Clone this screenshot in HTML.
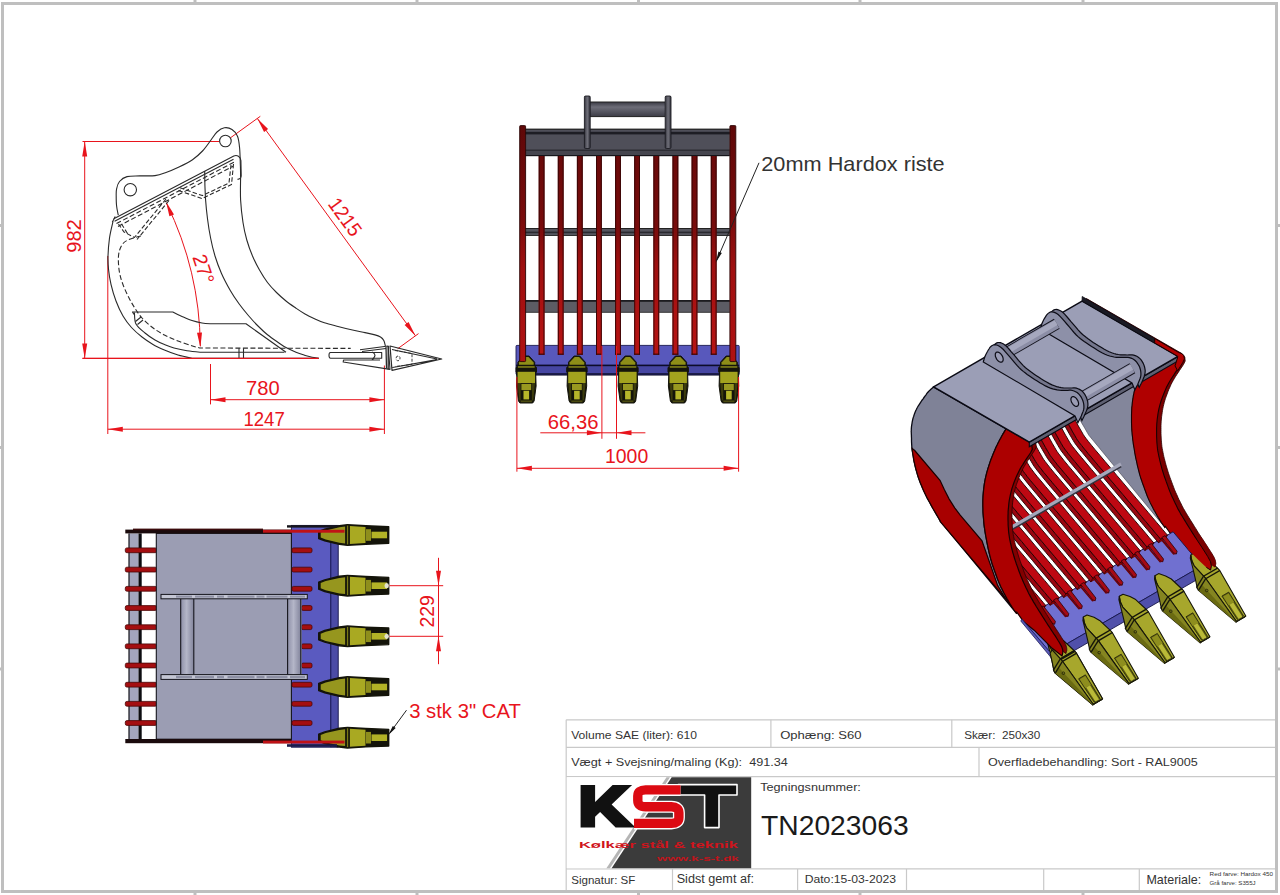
<!DOCTYPE html>
<html><head><meta charset="utf-8"><title>Drawing</title>
<style>
html,body{margin:0;padding:0;background:#fff;overflow:hidden}
svg{display:block;font-family:"Liberation Sans",sans-serif}
</style></head><body>
<svg width="1280" height="895" viewBox="0 0 1280 895">
<rect width="1280" height="895" fill="#fff"/>
<g id="frame">
<rect x="2.5" y="3.5" width="1274" height="888" fill="none" stroke="#bfbfbf" stroke-width="3"/>
<rect x="193.5" y="0" width="3" height="2" fill="#bfbfbf"/>
<rect x="193.5" y="893" width="3" height="2" fill="#bfbfbf"/>
<rect x="415.5" y="0" width="3" height="2" fill="#bfbfbf"/>
<rect x="415.5" y="893" width="3" height="2" fill="#bfbfbf"/>
<rect x="637" y="0" width="3" height="2" fill="#bfbfbf"/>
<rect x="637" y="893" width="3" height="2" fill="#bfbfbf"/>
<rect x="858.5" y="0" width="3" height="2" fill="#bfbfbf"/>
<rect x="858.5" y="893" width="3" height="2" fill="#bfbfbf"/>
<rect x="1081.5" y="0" width="3" height="2" fill="#bfbfbf"/>
<rect x="1081.5" y="893" width="3" height="2" fill="#bfbfbf"/>
<rect x="0" y="224" width="1" height="3" fill="#bfbfbf"/>
<rect x="1278" y="224" width="2" height="3" fill="#bfbfbf"/>
<rect x="0" y="446" width="1" height="3" fill="#bfbfbf"/>
<rect x="1278" y="446" width="2" height="3" fill="#bfbfbf"/>
<rect x="0" y="667.5" width="1" height="3" fill="#bfbfbf"/>
<rect x="1278" y="667.5" width="2" height="3" fill="#bfbfbf"/>
<line x1="566.2" y1="719.8" x2="1275" y2="719.8" stroke="#c9c9c9" stroke-width="1.2"/>
<line x1="566.2" y1="747.4" x2="1275" y2="747.4" stroke="#c9c9c9" stroke-width="1.2"/>
<line x1="566.2" y1="776.6" x2="1275" y2="776.6" stroke="#c9c9c9" stroke-width="1.2"/>
<line x1="566.2" y1="868.9" x2="1275" y2="868.9" stroke="#c9c9c9" stroke-width="1.2"/>
<line x1="566.2" y1="719.8" x2="566.2" y2="890" stroke="#c9c9c9" stroke-width="1.2"/>
<line x1="770.9" y1="719.8" x2="770.9" y2="747.4" stroke="#c9c9c9" stroke-width="1.2"/>
<line x1="951.8" y1="719.8" x2="951.8" y2="747.4" stroke="#c9c9c9" stroke-width="1.2"/>
<line x1="979" y1="747.4" x2="979" y2="776.6" stroke="#c9c9c9" stroke-width="1.2"/>
<line x1="672.5" y1="868.9" x2="672.5" y2="890" stroke="#c9c9c9" stroke-width="1.2"/>
<line x1="797.6" y1="868.9" x2="797.6" y2="890" stroke="#c9c9c9" stroke-width="1.2"/>
<line x1="906.5" y1="868.9" x2="906.5" y2="890" stroke="#c9c9c9" stroke-width="1.2"/>
<line x1="1043.7" y1="868.9" x2="1043.7" y2="890" stroke="#c9c9c9" stroke-width="1.2"/>
<line x1="1139.3" y1="868.9" x2="1139.3" y2="890" stroke="#c9c9c9" stroke-width="1.2"/>
<text x="571.2" y="739.1" font-size="11.5" fill="#333" textLength="125.8" lengthAdjust="spacingAndGlyphs">Volume SAE (liter): 610</text>
<text x="780.2" y="739.1" font-size="11.5" fill="#333" textLength="81.3" lengthAdjust="spacingAndGlyphs">Oph&#230;ng: S60</text>
<text x="964.2" y="739.1" font-size="11.5" fill="#333" textLength="76.2" lengthAdjust="spacingAndGlyphs">Sk&#230;r:&#160; 250x30</text>
<text x="571.2" y="766.2" font-size="11.5" fill="#333" textLength="216.6" lengthAdjust="spacingAndGlyphs">V&#230;gt + Svejsning/maling (Kg):&#160; 491.34</text>
<text x="988" y="766.2" font-size="11.5" fill="#333" textLength="209.8" lengthAdjust="spacingAndGlyphs">Overfladebehandling: Sort - RAL9005</text>
<text x="760.2" y="791" font-size="11.5" fill="#333" textLength="100.7" lengthAdjust="spacingAndGlyphs">Tegningsnummer:</text>
<text x="761" y="834.6" font-size="28" fill="#1a1a1a" textLength="147.7" lengthAdjust="spacingAndGlyphs">TN2023063</text>
<text x="571.2" y="884.2" font-size="11.5" fill="#333" textLength="64.2" lengthAdjust="spacingAndGlyphs">Signatur: SF</text>
<text x="676.7" y="883" font-size="12" fill="#333" textLength="77.3" lengthAdjust="spacingAndGlyphs">Sidst gemt af:</text>
<text x="804.7" y="883" font-size="11.5" fill="#333" textLength="91.3" lengthAdjust="spacingAndGlyphs">Dato:15-03-2023</text>
<text x="1146.4" y="883.8" font-size="13.5" fill="#333" textLength="54.8" lengthAdjust="spacingAndGlyphs">Materiale:</text>
<text x="1209.6" y="876.3" font-size="4.6" fill="#333" textLength="63.4" lengthAdjust="spacingAndGlyphs">Red farve: Hardox 450</text>
<text x="1209.6" y="884.7" font-size="4.6" fill="#333" textLength="46" lengthAdjust="spacingAndGlyphs">Gr&#229; farve: S355J</text>
<rect x="566.8" y="777.2" width="184.4" height="91.1" fill="#fff"/>
<polygon points="671.7,777.2 751.2,777.2 751.2,868.3 611.6,868.3" fill="#3b3b3b"/>
<polygon points="666.5,777.2 670,777.2 609.9,868.3 606.4,868.3" fill="#b5b5b5"/>
<path d="M580.6,785.1h14.5v17l17.5,-17h19.5l-20.5,19.5l24,23h-20l-15.5,-15.5l-5,4.6v10.9h-14.5z" fill="#111"/>
<path d="M678.2,784.6h58.8v10.4h-18v32.6h-14.4v-32.6h-26.4z" fill="#111" stroke="#fff" stroke-width="1.6" stroke-linejoin="round"/>
<path d="M680.5,789.9H645.5Q637.8,789.9 637.8,796V800.5Q637.8,806.8 645.5,806.8H671.5Q678.9,806.8 678.9,812.8V817.5Q678.9,823.4 671.5,823.4H634" fill="none" stroke="#fff" stroke-width="12" stroke-linejoin="round"/>
<path d="M680.5,789.9H645.5Q637.8,789.9 637.8,796V800.5Q637.8,806.8 645.5,806.8H671.5Q678.9,806.8 678.9,812.8V817.5Q678.9,823.4 671.5,823.4H634" fill="none" stroke="#dc0a12" stroke-width="9.4" stroke-linejoin="round"/>
<text x="578.9" y="848.2" font-size="9.5" font-weight="bold" fill="#d0141c" textLength="159" lengthAdjust="spacingAndGlyphs">K&#248;lk&#230;r st&#229;l &amp; teknik</text>
<text x="657" y="861.3" font-size="6.5" font-weight="bold" fill="#c0141c" textLength="81.8" lengthAdjust="spacingAndGlyphs">www.k-s-t.dk</text>
</g>
<g id="side">
<line x1="82.5" y1="141.5" x2="219.5" y2="141.5" stroke="#e8141c" stroke-width="1"/>
<line x1="82.5" y1="358.4" x2="192" y2="358.4" stroke="#e8141c" stroke-width="1"/>
<line x1="84.7" y1="141.5" x2="84.7" y2="358.4" stroke="#e8141c" stroke-width="1"/>
<polygon points="84.7,141.5 87.2,156.5 82.2,156.5" fill="#e8141c"/>
<polygon points="84.7,358.4 82.2,343.4 87.2,343.4" fill="#e8141c"/>
<text transform="translate(81.2,236) rotate(-90)" text-anchor="middle" font-size="20" fill="#e8141c" textLength="33.6" lengthAdjust="spacingAndGlyphs">982</text>
<line x1="107.8" y1="256" x2="107.8" y2="434" stroke="#e8141c" stroke-width="1"/>
<line x1="384.4" y1="365.5" x2="384.4" y2="434" stroke="#e8141c" stroke-width="1"/>
<line x1="107.8" y1="429.2" x2="384.4" y2="429.2" stroke="#e8141c" stroke-width="1"/>
<polygon points="107.8,429.2 122.8,426.7 122.8,431.7" fill="#e8141c"/>
<polygon points="384.4,429.2 369.4,431.7 369.4,426.7" fill="#e8141c"/>
<text x="243.4" y="425.5" font-size="20" fill="#e8141c" textLength="41.4" lengthAdjust="spacingAndGlyphs">1247</text>
<line x1="210.5" y1="364" x2="210.5" y2="404.4" stroke="#e8141c" stroke-width="1"/>
<line x1="210.5" y1="399.7" x2="384.4" y2="399.7" stroke="#e8141c" stroke-width="1"/>
<polygon points="210.5,399.7 225.5,397.2 225.5,402.2" fill="#e8141c"/>
<polygon points="384.4,399.7 369.4,402.2 369.4,397.2" fill="#e8141c"/>
<text x="246.1" y="395" font-size="20" fill="#e8141c" textLength="33.6" lengthAdjust="spacingAndGlyphs">780</text>
<line x1="229.5" y1="138.5" x2="260.3" y2="116.3" stroke="#e8141c" stroke-width="1"/>
<line x1="397.6" y1="348.8" x2="418.5" y2="333.6" stroke="#e8141c" stroke-width="1"/>
<line x1="257.3" y1="118.4" x2="415.4" y2="335.7" stroke="#e8141c" stroke-width="1"/>
<polygon points="257.3,118.4 268.1,129.1 264.1,132" fill="#e8141c"/>
<polygon points="415.4,335.7 404.6,325 408.6,322.1" fill="#e8141c"/>
<text transform="translate(339.5,221) rotate(54)" text-anchor="middle" font-size="20" fill="#e8141c" textLength="42" lengthAdjust="spacingAndGlyphs">1215</text>
<path d="M166.6,203.5 A 330,330 0 0 1 200.3,346" fill="none" stroke="#e8141c" stroke-width="1"/>
<polygon points="166,201.5 174,214.4 169.4,216.3" fill="#e8141c"/>
<polygon points="200.4,347.6 197,332.8 202,332.5" fill="#e8141c"/>
<text transform="translate(197,271.2) rotate(72)" text-anchor="middle" font-size="20" fill="#e8141c" textLength="30" lengthAdjust="spacingAndGlyphs">27&#176;</text>
<path d="M113,221.5C112.4,224.2 110.3,232.2 109.5,238C108.7,243.8 108.2,250.7 108,256C107.8,261.3 108.1,265.3 108.6,270C109.1,274.7 109.8,279.2 111,284.4C112.2,289.6 114,295.7 116,301C118,306.3 120.4,311.6 123,316C125.6,320.4 128.3,324 131.5,327.5C134.7,331 138.4,334.2 142,337C145.6,339.8 149.3,342.3 153,344.5C156.7,346.7 160.2,348.2 164.4,350C168.6,351.8 173.3,353.6 178,355C182.7,356.4 190.1,357.8 192.5,358.3L318.8,358.3" fill="none" stroke="#2a2a2a" stroke-width="1.1" stroke-linejoin="round"/>
<path d="M240.6,177.5C240.6,181.2 240.2,192.5 240.6,200C241,207.5 242,215.8 243,222.5C244,229.2 245.2,234.4 246.8,240C248.4,245.6 250.4,251 252.5,256C254.6,261 257,265.6 259.5,270C262,274.4 264.7,278.8 267.5,282.5C270.3,286.2 273.4,289.4 276.5,292.5C279.6,295.6 282.8,298.4 286,301C289.2,303.6 292.8,306 296,308.2C299.2,310.4 301.8,312.2 305,314C308.2,315.8 311.8,317.5 315,319C318.2,320.5 320.6,321.6 324.4,322.8C328.2,324.1 333.3,325.3 338,326.5C342.7,327.7 348,329 352.5,330C357,331 361.2,331.8 365,332.6C368.8,333.4 372.4,334.2 375,334.9C377.6,335.6 379,336.1 380.5,337C382,337.9 383,339 383.8,340.5C384.6,342 385.1,345.1 385.4,346" fill="none" stroke="#2a2a2a" stroke-width="1.1" stroke-linejoin="round"/>
<path d="M204.7,171C204.7,173.3 204.8,180.2 204.9,185C205.1,189.8 205.2,194.4 205.6,200C206,205.6 206.7,212.5 207.5,218.8C208.3,225.1 209.3,231.8 210.6,238C211.8,244.2 213.2,250.1 215,256C216.8,261.9 219,267.8 221.5,273.5C224,279.2 227.1,284.9 230,290C232.9,295.1 235.9,299.5 239,303.8C242.1,308.1 245.6,312.3 248.8,316C252,319.7 254.9,322.9 258,326C261.1,329.1 264.2,332.1 267.5,334.8C270.8,337.5 274.4,339.9 277.5,342C280.6,344.1 282.9,345.9 286,347.6C289.1,349.3 292.8,350.9 296,352.2C299.2,353.5 302.3,354.5 305,355.4C307.7,356.2 309.7,356.8 312,357.3C314.3,357.8 317.7,358.1 318.8,358.3" fill="none" stroke="#2a2a2a" stroke-width="1.1" stroke-linejoin="round"/>
<path d="M134.4,312.5C134.7,314.4 134.2,320.6 136,324C137.8,327.4 141.8,330.3 145,333C148.2,335.7 151.8,338.1 155,340C158.2,341.9 161.3,343.3 164.5,344.6C167.7,345.9 170.2,347 174,348C177.8,349 182.7,350.1 187,350.8C191.3,351.5 197.8,352.1 200,352.3L284.5,352.3" fill="none" stroke="#2a2a2a" stroke-width="1.1" stroke-linejoin="round"/>
<path d="M134,314.5L132.5,312L172.8,312C174.3,312.8 178.8,315.1 182,316.5C185.2,317.9 188.7,319.5 192,320.6C195.3,321.7 198.8,322.5 202,323C205.2,323.5 209.5,323.7 211,323.8L246,323.8L286,352.3" fill="none" stroke="#2a2a2a" stroke-width="1.1" stroke-linejoin="round"/>
<path d="M135.5,321.5L141,317M137.5,324.5L143,320" fill="none" stroke="#2a2a2a" stroke-width="1.1" stroke-linejoin="round"/>
<path d="M239,348.2V358.3M243.5,348.2V358.3" fill="none" stroke="#2a2a2a" stroke-width="1.1" stroke-linejoin="round"/>
<path d="M141,236C139.9,236.3 136.7,237.1 134.4,237.8C132.2,238.5 129.4,239.2 127.5,240.2C125.6,241.1 124.2,242 123,243.5C121.8,245 120.8,246.9 120,249C119.2,251.1 118.7,253.3 118.5,256C118.3,258.7 118.3,261.8 118.6,265C118.8,268.2 119.2,271.5 120,275C120.8,278.5 122,282.2 123.5,286C125,289.8 126.9,293.8 128.8,297.5C130.7,301.2 132.6,304.6 134.8,308C137,311.4 139.1,314.8 142,318C144.9,321.2 148.8,324.7 152.5,327.5C156.2,330.3 160.2,332.8 164.4,335C168.7,337.2 173.3,339.2 178,341C182.7,342.8 188.8,344.8 192.5,346C196.2,347.2 198.8,347.7 200,348L350.7,348.4" fill="none" stroke="#2a2a2a" stroke-width="1.1" stroke-linejoin="round" stroke-dasharray="5,2.5"/>
<path d="M118.3,215.2C118,213.7 116.9,209.2 116.6,206C116.2,202.8 116.2,198.9 116.2,196C116.2,193.1 116,191.2 116.6,188.8C117.1,186.4 117.8,183.5 119.5,181.5C121.2,179.5 123.6,177.5 127,176.6C130.4,175.7 135.3,176.1 140,175.9C144.7,175.7 150.7,176.2 155,175.6C159.3,175 162,173.9 166,172.5C170,171.1 174.6,169.1 179,167C183.4,164.9 188.6,162.4 192.5,159.7C196.4,157 199.4,154.3 202.5,151C205.6,147.7 208.6,143.2 211,140C213.4,136.8 214.8,134 217,132C219.2,130 221.9,128.2 224.4,127.8C226.9,127.4 229.8,128.1 232,129.5C234.2,130.9 236.2,133.1 237.5,136.2C238.8,139.3 239.1,143 239.6,148C240.1,153 240.2,161.4 240.4,166.3C240.6,171.2 240.6,175.6 240.6,177.5" fill="none" stroke="#2a2a2a" stroke-width="1.1" stroke-linejoin="round"/>
<circle cx="225.4" cy="141" r="5.8" fill="#fff" stroke="#2a2a2a" stroke-width="1.1"/>
<circle cx="130.3" cy="189.7" r="6.2" fill="#fff" stroke="#2a2a2a" stroke-width="1.1"/>
<path d="M113.8,218.8L233.8,156 C237,154.6 240.5,156.5 240.9,160.6 L241.2,176 C241,178 239,179.2 237.5,179.4" fill="none" stroke="#2a2a2a" stroke-width="1.1" stroke-linejoin="round"/>
<path d="M112.3,222.3L115.2,216.5M114.6,221.3L233.5,159.2" fill="none" stroke="#2a2a2a" stroke-width="1.1" stroke-linejoin="round"/>
<path d="M116.5,223.6L235,161.6M118,226.4L233,166.2" fill="none" stroke="#2a2a2a" stroke-width="1.1" stroke-linejoin="round" stroke-dasharray="5,2.5"/>
<path d="M178.5,190.5L202,198.5L231.5,184.5L233.5,164M180,187.8L202.3,195.6L229,183L231,165" fill="none" stroke="#2a2a2a" stroke-width="1.1" stroke-linejoin="round" stroke-dasharray="4.5,2.2"/>
<path d="M166,199L134.4,237.5L124,232L118.5,224M169,200.5L137,239.5M121.5,224L127.5,233.5" fill="none" stroke="#2a2a2a" stroke-width="1.1" stroke-linejoin="round" stroke-dasharray="4.5,2.2"/>
<path d="M330.5,352.5H381.7V358.2H330.5C328.5,358.2 328.5,352.5 330.5,352.5Z" fill="none" stroke="#2a2a2a" stroke-width="1.1" stroke-linejoin="round"/>
<path d="M360,349.7L388.2,346L390,369.4L343.2,362L343.5,360L380,360M362,351.5L386,348.5M372,360C376,356 376,354 372,352" fill="none" stroke="#2a2a2a" stroke-width="1.1" stroke-linejoin="round"/>
<path d="M388.2,346V369.4M386,347L386.5,368.5" fill="none" stroke="#2a2a2a" stroke-width="1.3" stroke-linejoin="round"/>
<path d="M390,346L441.7,359L392,370.4ZM392,349.5L437,359M392.5,367.5L437,359.6" fill="none" stroke="#2a2a2a" stroke-width="1.2" stroke-linejoin="round"/>
<path d="M395,350.5L412,353.5L412,364.5L395,366.5M398,356a2,2.4 0 1 0 0.1,0" fill="none" stroke="#2a2a2a" stroke-width="0.9" stroke-linejoin="round" stroke-dasharray="3,1.5"/>
<line x1="82.5" y1="358.4" x2="318.8" y2="358.4" stroke="#e8141c" stroke-width="1.1"/>
</g>
<g id="front">
<defs>
<linearGradient id="barg" gradientUnits="userSpaceOnUse" x1="0" y1="156" x2="0" y2="355">
<stop offset="0" stop-color="#6a0a0a"/><stop offset="0.35" stop-color="#780c0c"/><stop offset="0.55" stop-color="#a01010"/><stop offset="1" stop-color="#b81414"/></linearGradient>
<linearGradient id="sideg" gradientUnits="userSpaceOnUse" x1="0" y1="125" x2="0" y2="365">
<stop offset="0" stop-color="#5e0808"/><stop offset="0.4" stop-color="#7a0c0c"/><stop offset="0.6" stop-color="#a01010"/><stop offset="1" stop-color="#b01212"/></linearGradient>
<linearGradient id="ping" x1="0" y1="0" x2="0" y2="1">
<stop offset="0" stop-color="#3a3a44"/><stop offset="0.35" stop-color="#6d6d78"/><stop offset="1" stop-color="#3c3c46"/></linearGradient>
<linearGradient id="earg" x1="0" y1="0" x2="1" y2="0">
<stop offset="0" stop-color="#33333c"/><stop offset="0.5" stop-color="#70707a"/><stop offset="1" stop-color="#33333c"/></linearGradient>
</defs>
<rect x="590" y="102" width="75" height="14.6" fill="url(#ping)"/>
<line x1="590" y1="102" x2="665" y2="102" stroke="#222" stroke-width="1"/>
<line x1="590" y1="116.6" x2="665" y2="116.6" stroke="#222" stroke-width="1"/>
<rect x="525.3" y="129" width="204.5" height="26.5" fill="#4f4f59"/>
<rect x="525.3" y="128.6" width="204.5" height="1.2" fill="#222"/>
<rect x="525.3" y="131.8" width="204.5" height="2.6" fill="#1d1d24"/>
<rect x="525.3" y="149.6" width="204.5" height="1.2" fill="#26262c"/>
<rect x="525.3" y="151" width="204.5" height="4.2" fill="#45454e"/>
<rect x="525.3" y="155" width="204.5" height="1.2" fill="#15151a"/>
<rect x="584.4" y="96" width="5.8" height="52.5" fill="url(#earg)"/>
<rect x="584.4" y="96" width="5.8" height="52.5" fill="none" stroke="#1c1c22" stroke-width="0.9" rx="1.2"/>
<rect x="665.2" y="96" width="5.8" height="52.5" fill="url(#earg)"/>
<rect x="665.2" y="96" width="5.8" height="52.5" fill="none" stroke="#1c1c22" stroke-width="0.9" rx="1.2"/>
<rect x="525.3" y="228.2" width="204.5" height="7.4" fill="#55555e"/>
<rect x="525.3" y="228" width="204.5" height="1" fill="#222"/>
<rect x="525.3" y="231.6" width="204.5" height="1.6" fill="#2a2a30"/>
<rect x="525.3" y="235" width="204.5" height="0.9" fill="#222"/>
<rect x="525.3" y="300.3" width="204.5" height="12.2" fill="#5c5c64"/>
<rect x="525.3" y="300" width="204.5" height="1.8" fill="#1c1c20"/>
<rect x="525.3" y="311.8" width="204.5" height="0.9" fill="#333"/>
<rect x="516" y="345.4" width="223.2" height="29.2" fill="#5858bc"/>
<rect x="516" y="365.8" width="223.2" height="8.8" fill="#4646a2"/>
<rect x="516" y="373.3" width="223.2" height="2.2" fill="#0c0c24"/>
<rect x="516" y="364.6" width="223.2" height="1.6" fill="#0c0c2a"/>
<rect x="516" y="345.4" width="223.2" height="29.2" fill="none" stroke="#1c1c50" stroke-width="0.9" rx="1"/>
<rect x="538.7" y="156" width="5.8" height="198.7" fill="url(#barg)"/>
<rect x="538.7" y="156" width="1" height="198.7" fill="#3a0505"/>
<rect x="543.5" y="156" width="1" height="198.7" fill="#3a0505"/>
<rect x="538.7" y="353.6" width="5.8" height="1.2" fill="#3a0505"/>
<rect x="557.8" y="156" width="5.8" height="198.7" fill="url(#barg)"/>
<rect x="557.8" y="156" width="1" height="198.7" fill="#3a0505"/>
<rect x="562.6" y="156" width="1" height="198.7" fill="#3a0505"/>
<rect x="557.8" y="353.6" width="5.8" height="1.2" fill="#3a0505"/>
<rect x="576.9" y="156" width="5.8" height="198.7" fill="url(#barg)"/>
<rect x="576.9" y="156" width="1" height="198.7" fill="#3a0505"/>
<rect x="581.7" y="156" width="1" height="198.7" fill="#3a0505"/>
<rect x="576.9" y="353.6" width="5.8" height="1.2" fill="#3a0505"/>
<rect x="596" y="156" width="5.8" height="198.7" fill="url(#barg)"/>
<rect x="596" y="156" width="1" height="198.7" fill="#3a0505"/>
<rect x="600.8" y="156" width="1" height="198.7" fill="#3a0505"/>
<rect x="596" y="353.6" width="5.8" height="1.2" fill="#3a0505"/>
<rect x="615.1" y="156" width="5.8" height="198.7" fill="url(#barg)"/>
<rect x="615.1" y="156" width="1" height="198.7" fill="#3a0505"/>
<rect x="619.9" y="156" width="1" height="198.7" fill="#3a0505"/>
<rect x="615.1" y="353.6" width="5.8" height="1.2" fill="#3a0505"/>
<rect x="634.2" y="156" width="5.8" height="198.7" fill="url(#barg)"/>
<rect x="634.2" y="156" width="1" height="198.7" fill="#3a0505"/>
<rect x="639" y="156" width="1" height="198.7" fill="#3a0505"/>
<rect x="634.2" y="353.6" width="5.8" height="1.2" fill="#3a0505"/>
<rect x="653.4" y="156" width="5.8" height="198.7" fill="url(#barg)"/>
<rect x="653.4" y="156" width="1" height="198.7" fill="#3a0505"/>
<rect x="658.2" y="156" width="1" height="198.7" fill="#3a0505"/>
<rect x="653.4" y="353.6" width="5.8" height="1.2" fill="#3a0505"/>
<rect x="672.5" y="156" width="5.8" height="198.7" fill="url(#barg)"/>
<rect x="672.5" y="156" width="1" height="198.7" fill="#3a0505"/>
<rect x="677.3" y="156" width="1" height="198.7" fill="#3a0505"/>
<rect x="672.5" y="353.6" width="5.8" height="1.2" fill="#3a0505"/>
<rect x="691.6" y="156" width="5.8" height="198.7" fill="url(#barg)"/>
<rect x="691.6" y="156" width="1" height="198.7" fill="#3a0505"/>
<rect x="696.4" y="156" width="1" height="198.7" fill="#3a0505"/>
<rect x="691.6" y="353.6" width="5.8" height="1.2" fill="#3a0505"/>
<rect x="710.8" y="156" width="5.8" height="198.7" fill="url(#barg)"/>
<rect x="710.8" y="156" width="1" height="198.7" fill="#3a0505"/>
<rect x="715.6" y="156" width="1" height="198.7" fill="#3a0505"/>
<rect x="710.8" y="353.6" width="5.8" height="1.2" fill="#3a0505"/>
<polygon points="523.5,356 529.1,356 534.7,362.2 534.7,366 536.5,367.5 536.5,372 535.7,373 536.1,386 534.1,401 532.7,403 519.9,403 518.5,401 516.5,386 516.9,373 516.1,372 516.1,367.5 517.9,366 517.9,362.2" fill="#14140a" stroke="#14140a" stroke-width="1.0" stroke-linejoin="round"/>
<polygon points="524.1,357 528.5,357 533.7,362.6 533.7,364.8 518.9,364.8 518.9,362.6" fill="#8e8e18"/>
<rect x="517.9" y="366.2" width="16.8" height="1.5" fill="#86861a"/>
<rect x="517.6" y="371.8" width="17.4" height="11.2" fill="#a2a21e"/>
<polygon points="517.6,383 520.7,383 520.7,400.5 519.3,400.5" fill="#3c3c0c"/>
<polygon points="535,383 531.9,383 531.9,400.5 533.3,400.5" fill="#3c3c0c"/>
<rect x="521.4" y="383.9" width="9.8" height="6.2" fill="#989820"/>
<rect x="523.5" y="390.8" width="5.6" height="8.6" fill="#b6b62a"/>
<rect x="520.7" y="400.4" width="11.2" height="1.8" fill="#4a4a10"/>
<polygon points="574.1,356 579.7,356 585.3,362.2 585.3,366 587.1,367.5 587.1,372 586.3,373 586.7,386 584.7,401 583.3,403 570.5,403 569.1,401 567.1,386 567.5,373 566.7,372 566.7,367.5 568.5,366 568.5,362.2" fill="#14140a" stroke="#14140a" stroke-width="1.0" stroke-linejoin="round"/>
<polygon points="574.7,357 579.1,357 584.3,362.6 584.3,364.8 569.5,364.8 569.5,362.6" fill="#8e8e18"/>
<rect x="568.5" y="366.2" width="16.8" height="1.5" fill="#86861a"/>
<rect x="568.2" y="371.8" width="17.4" height="11.2" fill="#a2a21e"/>
<polygon points="568.2,383 571.3,383 571.3,400.5 569.9,400.5" fill="#3c3c0c"/>
<polygon points="585.6,383 582.5,383 582.5,400.5 583.9,400.5" fill="#3c3c0c"/>
<rect x="572" y="383.9" width="9.8" height="6.2" fill="#989820"/>
<rect x="574.1" y="390.8" width="5.6" height="8.6" fill="#b6b62a"/>
<rect x="571.3" y="400.4" width="11.2" height="1.8" fill="#4a4a10"/>
<polygon points="625.1,356 630.7,356 636.3,362.2 636.3,366 638.1,367.5 638.1,372 637.3,373 637.7,386 635.7,401 634.3,403 621.5,403 620.1,401 618.1,386 618.5,373 617.7,372 617.7,367.5 619.5,366 619.5,362.2" fill="#14140a" stroke="#14140a" stroke-width="1.0" stroke-linejoin="round"/>
<polygon points="625.7,357 630.1,357 635.3,362.6 635.3,364.8 620.5,364.8 620.5,362.6" fill="#8e8e18"/>
<rect x="619.5" y="366.2" width="16.8" height="1.5" fill="#86861a"/>
<rect x="619.2" y="371.8" width="17.4" height="11.2" fill="#a2a21e"/>
<polygon points="619.2,383 622.3,383 622.3,400.5 620.9,400.5" fill="#3c3c0c"/>
<polygon points="636.6,383 633.5,383 633.5,400.5 634.9,400.5" fill="#3c3c0c"/>
<rect x="623" y="383.9" width="9.8" height="6.2" fill="#989820"/>
<rect x="625.1" y="390.8" width="5.6" height="8.6" fill="#b6b62a"/>
<rect x="622.3" y="400.4" width="11.2" height="1.8" fill="#4a4a10"/>
<polygon points="675.4,356 681,356 686.6,362.2 686.6,366 688.4,367.5 688.4,372 687.6,373 688,386 686,401 684.6,403 671.8,403 670.4,401 668.4,386 668.8,373 668,372 668,367.5 669.8,366 669.8,362.2" fill="#14140a" stroke="#14140a" stroke-width="1.0" stroke-linejoin="round"/>
<polygon points="676,357 680.4,357 685.6,362.6 685.6,364.8 670.8,364.8 670.8,362.6" fill="#8e8e18"/>
<rect x="669.8" y="366.2" width="16.8" height="1.5" fill="#86861a"/>
<rect x="669.5" y="371.8" width="17.4" height="11.2" fill="#a2a21e"/>
<polygon points="669.5,383 672.6,383 672.6,400.5 671.2,400.5" fill="#3c3c0c"/>
<polygon points="686.9,383 683.8,383 683.8,400.5 685.2,400.5" fill="#3c3c0c"/>
<rect x="673.3" y="383.9" width="9.8" height="6.2" fill="#989820"/>
<rect x="675.4" y="390.8" width="5.6" height="8.6" fill="#b6b62a"/>
<rect x="672.6" y="400.4" width="11.2" height="1.8" fill="#4a4a10"/>
<polygon points="726.1,356 731.7,356 737.3,362.2 737.3,366 739.1,367.5 739.1,372 738.3,373 738.7,386 736.7,401 735.3,403 722.5,403 721.1,401 719.1,386 719.5,373 718.7,372 718.7,367.5 720.5,366 720.5,362.2" fill="#14140a" stroke="#14140a" stroke-width="1.0" stroke-linejoin="round"/>
<polygon points="726.7,357 731.1,357 736.3,362.6 736.3,364.8 721.5,364.8 721.5,362.6" fill="#8e8e18"/>
<rect x="720.5" y="366.2" width="16.8" height="1.5" fill="#86861a"/>
<rect x="720.2" y="371.8" width="17.4" height="11.2" fill="#a2a21e"/>
<polygon points="720.2,383 723.3,383 723.3,400.5 721.9,400.5" fill="#3c3c0c"/>
<polygon points="737.6,383 734.5,383 734.5,400.5 735.9,400.5" fill="#3c3c0c"/>
<rect x="724" y="383.9" width="9.8" height="6.2" fill="#989820"/>
<rect x="726.1" y="390.8" width="5.6" height="8.6" fill="#b6b62a"/>
<rect x="723.3" y="400.4" width="11.2" height="1.8" fill="#4a4a10"/>
<rect x="519.7" y="125.6" width="5.9" height="236" fill="url(#sideg)"/>
<rect x="519.7" y="125.6" width="5.9" height="236" fill="none" stroke="#2a0404" stroke-width="0.9" rx="1"/>
<rect x="729.9" y="125.6" width="5.9" height="236" fill="url(#sideg)"/>
<rect x="729.9" y="125.6" width="5.9" height="236" fill="none" stroke="#2a0404" stroke-width="0.9" rx="1"/>
<line x1="601.9" y1="346" x2="601.9" y2="438.8" stroke="#e8141c" stroke-width="1"/>
<line x1="616.5" y1="346" x2="616.5" y2="438.8" stroke="#e8141c" stroke-width="1"/>
<line x1="540.3" y1="432.8" x2="645.4" y2="432.8" stroke="#e8141c" stroke-width="1"/>
<polygon points="601.9,432.8 586.9,435.3 586.9,430.3" fill="#e8141c"/>
<polygon points="616.5,432.8 631.5,430.3 631.5,435.3" fill="#e8141c"/>
<text x="547.8" y="428.6" font-size="20" fill="#e8141c" textLength="50.7" lengthAdjust="spacingAndGlyphs">66,36</text>
<line x1="516.9" y1="377" x2="516.9" y2="471.7" stroke="#e8141c" stroke-width="1"/>
<line x1="738.6" y1="377" x2="738.6" y2="471.7" stroke="#e8141c" stroke-width="1"/>
<line x1="516.9" y1="468.3" x2="738.6" y2="468.3" stroke="#e8141c" stroke-width="1"/>
<polygon points="516.9,468.3 531.9,465.8 531.9,470.8" fill="#e8141c"/>
<polygon points="738.6,468.3 723.6,470.8 723.6,465.8" fill="#e8141c"/>
<text x="605" y="462.5" font-size="20" fill="#e8141c" textLength="43.2" lengthAdjust="spacingAndGlyphs">1000</text>
<line x1="759" y1="162.8" x2="716.6" y2="260.5" stroke="#222" stroke-width="1"/>
<polygon points="715.8,262.4 718.5,251.6 721.8,253" fill="#111"/>
<text x="761.3" y="170.6" font-size="20.3" fill="#333" textLength="183.4" lengthAdjust="spacingAndGlyphs">20mm Hardox riste</text>
</g>
<g id="top">
<defs>
<linearGradient id="pinv" x1="0" y1="0" x2="1" y2="0">
<stop offset="0" stop-color="#8e90a8"/><stop offset="0.45" stop-color="#b4b6c8"/><stop offset="1" stop-color="#82849c"/></linearGradient>
</defs>
<rect x="129" y="533.4" width="9.5" height="205.8" fill="#a3a5bd"/>
<rect x="128.4" y="533.4" width="1.2" height="205.8" fill="#15151c"/>
<rect x="138.5" y="533.4" width="3.2" height="205.8" fill="#0c0c10"/>
<rect x="291.4" y="525.4" width="46.8" height="221.8" fill="#5a5ac0"/>
<rect x="330.8" y="525.4" width="7.4" height="221.8" fill="#4b4ba6"/>
<rect x="330.2" y="525.4" width="1.1" height="221.8" fill="#1a1a55"/>
<rect x="291.4" y="525.4" width="46.8" height="221.8" fill="none" stroke="#1a1a4a" stroke-width="0.9"/>
<rect x="125.3" y="547.9" width="31.5" height="4.8" fill="#a40e10" rx="1.6"/>
<rect x="125.3" y="547.9" width="31.5" height="4.8" fill="none" stroke="#4a0606" stroke-width="0.8" rx="1.6"/>
<rect x="125.3" y="567.2" width="31.5" height="4.8" fill="#a40e10" rx="1.6"/>
<rect x="125.3" y="567.2" width="31.5" height="4.8" fill="none" stroke="#4a0606" stroke-width="0.8" rx="1.6"/>
<rect x="125.3" y="586.4" width="31.5" height="4.8" fill="#a40e10" rx="1.6"/>
<rect x="125.3" y="586.4" width="31.5" height="4.8" fill="none" stroke="#4a0606" stroke-width="0.8" rx="1.6"/>
<rect x="125.3" y="605.6" width="31.5" height="4.8" fill="#a40e10" rx="1.6"/>
<rect x="125.3" y="605.6" width="31.5" height="4.8" fill="none" stroke="#4a0606" stroke-width="0.8" rx="1.6"/>
<rect x="125.3" y="624.8" width="31.5" height="4.8" fill="#a40e10" rx="1.6"/>
<rect x="125.3" y="624.8" width="31.5" height="4.8" fill="none" stroke="#4a0606" stroke-width="0.8" rx="1.6"/>
<rect x="125.3" y="643.9" width="31.5" height="4.8" fill="#a40e10" rx="1.6"/>
<rect x="125.3" y="643.9" width="31.5" height="4.8" fill="none" stroke="#4a0606" stroke-width="0.8" rx="1.6"/>
<rect x="125.3" y="663.1" width="31.5" height="4.8" fill="#a40e10" rx="1.6"/>
<rect x="125.3" y="663.1" width="31.5" height="4.8" fill="none" stroke="#4a0606" stroke-width="0.8" rx="1.6"/>
<rect x="125.3" y="682.3" width="31.5" height="4.8" fill="#a40e10" rx="1.6"/>
<rect x="125.3" y="682.3" width="31.5" height="4.8" fill="none" stroke="#4a0606" stroke-width="0.8" rx="1.6"/>
<rect x="125.3" y="701.4" width="31.5" height="4.8" fill="#a40e10" rx="1.6"/>
<rect x="125.3" y="701.4" width="31.5" height="4.8" fill="none" stroke="#4a0606" stroke-width="0.8" rx="1.6"/>
<rect x="125.3" y="720.6" width="31.5" height="4.8" fill="#a40e10" rx="1.6"/>
<rect x="125.3" y="720.6" width="31.5" height="4.8" fill="none" stroke="#4a0606" stroke-width="0.8" rx="1.6"/>
<rect x="156.3" y="533.4" width="135.1" height="205.8" fill="#9b9db3"/>
<rect x="156.3" y="533.4" width="135.1" height="205.8" fill="none" stroke="#15151c" stroke-width="1.1"/>
<rect x="291.9" y="547.9" width="20.1" height="4.8" fill="#a40e10" rx="1.6"/>
<rect x="291.9" y="547.9" width="20.1" height="4.8" fill="none" stroke="#4a0606" stroke-width="0.8" rx="1.6"/>
<rect x="291.9" y="567.2" width="20.1" height="4.8" fill="#a40e10" rx="1.6"/>
<rect x="291.9" y="567.2" width="20.1" height="4.8" fill="none" stroke="#4a0606" stroke-width="0.8" rx="1.6"/>
<rect x="291.9" y="586.4" width="20.1" height="4.8" fill="#a40e10" rx="1.6"/>
<rect x="291.9" y="586.4" width="20.1" height="4.8" fill="none" stroke="#4a0606" stroke-width="0.8" rx="1.6"/>
<rect x="301.5" y="605.6" width="10.5" height="4.8" fill="#a40e10" rx="1.6"/>
<rect x="301.5" y="605.6" width="10.5" height="4.8" fill="none" stroke="#4a0606" stroke-width="0.8" rx="1.6"/>
<rect x="301.5" y="624.8" width="10.5" height="4.8" fill="#a40e10" rx="1.6"/>
<rect x="301.5" y="624.8" width="10.5" height="4.8" fill="none" stroke="#4a0606" stroke-width="0.8" rx="1.6"/>
<rect x="301.5" y="643.9" width="10.5" height="4.8" fill="#a40e10" rx="1.6"/>
<rect x="301.5" y="643.9" width="10.5" height="4.8" fill="none" stroke="#4a0606" stroke-width="0.8" rx="1.6"/>
<rect x="301.5" y="663.1" width="10.5" height="4.8" fill="#a40e10" rx="1.6"/>
<rect x="301.5" y="663.1" width="10.5" height="4.8" fill="none" stroke="#4a0606" stroke-width="0.8" rx="1.6"/>
<rect x="291.9" y="682.3" width="20.1" height="4.8" fill="#a40e10" rx="1.6"/>
<rect x="291.9" y="682.3" width="20.1" height="4.8" fill="none" stroke="#4a0606" stroke-width="0.8" rx="1.6"/>
<rect x="291.9" y="701.4" width="20.1" height="4.8" fill="#a40e10" rx="1.6"/>
<rect x="291.9" y="701.4" width="20.1" height="4.8" fill="none" stroke="#4a0606" stroke-width="0.8" rx="1.6"/>
<rect x="291.9" y="720.6" width="20.1" height="4.8" fill="#a40e10" rx="1.6"/>
<rect x="291.9" y="720.6" width="20.1" height="4.8" fill="none" stroke="#4a0606" stroke-width="0.8" rx="1.6"/>
<rect x="291" y="598.6" width="10.7" height="76.2" fill="#9b9db3"/>
<rect x="180.7" y="598.6" width="13.1" height="76.2" fill="url(#pinv)"/>
<line x1="180.7" y1="598.6" x2="180.7" y2="674.8" stroke="#15151c" stroke-width="1.1"/>
<line x1="193.8" y1="598.6" x2="193.8" y2="674.8" stroke="#15151c" stroke-width="1.1"/>
<rect x="287.6" y="598.6" width="13.2" height="76.2" fill="url(#pinv)"/>
<line x1="287.6" y1="598.6" x2="287.6" y2="674.8" stroke="#15151c" stroke-width="1.1"/>
<line x1="300.8" y1="598.6" x2="300.8" y2="674.8" stroke="#15151c" stroke-width="1.1"/>
<rect x="161" y="594.4" width="146.3" height="4.4" fill="#c4c6d4" stroke="#15151c" stroke-width="1"/>
<rect x="176" y="595.6" width="16" height="2" fill="#8d8fa3"/>
<rect x="195" y="595.6" width="19" height="2" fill="#8d8fa3"/>
<rect x="217" y="595.6" width="7" height="2" fill="#8d8fa3"/>
<rect x="227.5" y="595.6" width="27" height="2" fill="#8d8fa3"/>
<rect x="256.5" y="595.6" width="8" height="2" fill="#8d8fa3"/>
<rect x="266.5" y="595.6" width="21" height="2" fill="#8d8fa3"/>
<rect x="290" y="595.6" width="15" height="2" fill="#8d8fa3"/>
<rect x="161" y="674.6" width="146.3" height="4.8" fill="#c4c6d4" stroke="#15151c" stroke-width="1"/>
<rect x="176" y="675.8" width="16" height="2.4" fill="#8d8fa3"/>
<rect x="195" y="675.8" width="19" height="2.4" fill="#8d8fa3"/>
<rect x="217" y="675.8" width="7" height="2.4" fill="#8d8fa3"/>
<rect x="227.5" y="675.8" width="27" height="2.4" fill="#8d8fa3"/>
<rect x="256.5" y="675.8" width="8" height="2.4" fill="#8d8fa3"/>
<rect x="266.5" y="675.8" width="21" height="2.4" fill="#8d8fa3"/>
<rect x="290" y="675.8" width="15" height="2.4" fill="#8d8fa3"/>
<polygon points="318.7,531.5 324.7,529.2 339.3,525.6 347.4,524.7 365.7,525.8 388.7,526.7 388.7,543.3 365.7,544.2 347.4,545.3 339.3,544.4 324.7,540.8 318.7,538.5" fill="#14140a" stroke="#14140a" stroke-width="1.4" stroke-linejoin="round"/>
<polygon points="320.7,532.4 325.7,530.4 339.3,527.2 345.1,526.6 345.1,543.4 339.3,542.8 325.7,539.6 320.7,537.6" fill="#96961e"/>
<rect x="346.9" y="525.6" width="1.3" height="18.8" fill="#7a7a16"/>
<polygon points="349.9,526 365.5,527 365.5,543 349.9,544" fill="#a9a922"/>
<rect x="366" y="529.2" width="5" height="11.6" fill="#8e8e1c"/>
<rect x="371.5" y="531.7" width="15.6" height="6.6" fill="#b2b226"/>
<polygon points="318.7,582.2 324.7,579.9 339.3,576.3 347.4,575.4 365.7,576.5 388.7,577.4 388.7,594 365.7,594.9 347.4,596 339.3,595.1 324.7,591.5 318.7,589.2" fill="#14140a" stroke="#14140a" stroke-width="1.4" stroke-linejoin="round"/>
<polygon points="320.7,583.1 325.7,581.1 339.3,577.9 345.1,577.3 345.1,594.1 339.3,593.5 325.7,590.3 320.7,588.3" fill="#96961e"/>
<rect x="346.9" y="576.3" width="1.3" height="18.8" fill="#7a7a16"/>
<polygon points="349.9,576.7 365.5,577.7 365.5,593.7 349.9,594.7" fill="#a9a922"/>
<rect x="366" y="579.9" width="5" height="11.6" fill="#8e8e1c"/>
<rect x="371.5" y="582.4" width="15.6" height="6.6" fill="#b2b226"/>
<ellipse cx="386.7" cy="585.7" rx="2.2" ry="2.6" fill="#e4e4d0"/>
<polygon points="318.7,632.8 324.7,630.5 339.3,626.9 347.4,626 365.7,627.1 388.7,628 388.7,644.6 365.7,645.5 347.4,646.6 339.3,645.7 324.7,642.1 318.7,639.8" fill="#14140a" stroke="#14140a" stroke-width="1.4" stroke-linejoin="round"/>
<polygon points="320.7,633.7 325.7,631.7 339.3,628.5 345.1,627.9 345.1,644.7 339.3,644.1 325.7,640.9 320.7,638.9" fill="#96961e"/>
<rect x="346.9" y="626.9" width="1.3" height="18.8" fill="#7a7a16"/>
<polygon points="349.9,627.3 365.5,628.3 365.5,644.3 349.9,645.3" fill="#a9a922"/>
<rect x="366" y="630.5" width="5" height="11.6" fill="#8e8e1c"/>
<rect x="371.5" y="633" width="15.6" height="6.6" fill="#b2b226"/>
<ellipse cx="386.7" cy="636.3" rx="2.2" ry="2.6" fill="#e4e4d0"/>
<polygon points="318.7,683.5 324.7,681.2 339.3,677.6 347.4,676.7 365.7,677.8 388.7,678.7 388.7,695.3 365.7,696.2 347.4,697.3 339.3,696.4 324.7,692.8 318.7,690.5" fill="#14140a" stroke="#14140a" stroke-width="1.4" stroke-linejoin="round"/>
<polygon points="320.7,684.4 325.7,682.4 339.3,679.2 345.1,678.6 345.1,695.4 339.3,694.8 325.7,691.6 320.7,689.6" fill="#96961e"/>
<rect x="346.9" y="677.6" width="1.3" height="18.8" fill="#7a7a16"/>
<polygon points="349.9,678 365.5,679 365.5,695 349.9,696" fill="#a9a922"/>
<rect x="366" y="681.2" width="5" height="11.6" fill="#8e8e1c"/>
<rect x="371.5" y="683.7" width="15.6" height="6.6" fill="#b2b226"/>
<polygon points="318.7,734.2 324.7,731.9 339.3,728.3 347.4,727.4 365.7,728.5 388.7,729.4 388.7,746 365.7,746.9 347.4,748 339.3,747.1 324.7,743.5 318.7,741.2" fill="#14140a" stroke="#14140a" stroke-width="1.4" stroke-linejoin="round"/>
<polygon points="320.7,735.1 325.7,733.1 339.3,729.9 345.1,729.3 345.1,746.1 339.3,745.5 325.7,742.3 320.7,740.3" fill="#96961e"/>
<rect x="346.9" y="728.3" width="1.3" height="18.8" fill="#7a7a16"/>
<polygon points="349.9,728.7 365.5,729.7 365.5,745.7 349.9,746.7" fill="#a9a922"/>
<rect x="366" y="731.9" width="5" height="11.6" fill="#8e8e1c"/>
<rect x="371.5" y="734.4" width="15.6" height="6.6" fill="#b2b226"/>
<rect x="125.3" y="529.6" width="166" height="3.8" fill="#1a0a0c"/>
<rect x="133" y="528.6" width="130" height="1.6" fill="#3a0a0c"/>
<rect x="263" y="529.8" width="81.5" height="2.9" fill="#c01216"/>
<rect x="125.3" y="739" width="166" height="4.2" fill="#1a0a0c"/>
<rect x="263" y="740.6" width="81.5" height="2.9" fill="#c01216"/>
<rect x="287" y="744.2" width="50" height="2.6" fill="#1c1c4a"/>
<rect x="287" y="525.2" width="50" height="2.4" fill="#16161c"/>
<line x1="389.5" y1="585.7" x2="443.2" y2="585.7" stroke="#e8141c" stroke-width="1"/>
<line x1="389.5" y1="636.3" x2="443.2" y2="636.3" stroke="#e8141c" stroke-width="1"/>
<line x1="438.5" y1="557.8" x2="438.5" y2="664.2" stroke="#e8141c" stroke-width="1"/>
<polygon points="438.5,585.7 436,570.7 441,570.7" fill="#e8141c"/>
<polygon points="438.5,636.3 441,651.3 436,651.3" fill="#e8141c"/>
<text transform="translate(433.6,611.3) rotate(-90)" text-anchor="middle" font-size="20" fill="#e8141c" textLength="32.5" lengthAdjust="spacingAndGlyphs">229</text>
<line x1="406.5" y1="710.2" x2="389.5" y2="733.4" stroke="#222" stroke-width="1"/>
<polygon points="388.4,735 392.8,725.9 395.7,728" fill="#111"/>
<text x="409.2" y="717.5" font-size="20" fill="#e8141c" textLength="111.6" lengthAdjust="spacingAndGlyphs">3 stk 3&#34; CAT</text>
</g>
<g id="iso">
<polygon points="1086.5,298.6 1085.4,299.7 1084.5,300.5 1083.6,301.3 1082.7,302.1 1081.7,303 1080.8,304 1079.9,305.2 1078.9,306.5 1077.9,307.8 1077,309.2 1076.1,310.5 1075.2,311.7 1074.3,312.9 1073.5,314.1 1072.7,315.3 1071.9,316.5 1071.2,317.8 1070.5,319 1069.8,320.2 1069.1,321.5 1068.5,322.8 1068,324 1067.5,325.3 1067,326.6 1066.6,327.9 1066.2,329.1 1065.9,330.5 1065.6,331.8 1065.3,333.1 1065,334.4 1064.8,335.7 1064.6,337 1064.5,338.2 1064.4,339.5 1064.3,340.7 1064.2,342 1064.2,343.1 1064.2,344.3 1064.3,345.4 1064.3,346.7 1064.4,348 1064.4,349.6 1064.4,351.2 1064.5,353 1064.5,354.8 1064.6,356.6 1064.8,358.3 1065,360 1065.2,361.8 1065.4,363.7 1065.7,365.7 1066.1,367.9 1066.5,370.3 1067,372.8 1067.5,375.4 1068.1,378 1068.8,380.7 1069.6,383.5 1070.4,386.4 1071.4,389.2 1072.3,392 1073.3,394.7 1074.4,397.4 1075.6,400 1076.7,402.6 1077.9,405.2 1079.2,407.7 1080.4,410.1 1081.7,412.5 1083,414.9 1084.5,417.6 1086.1,420.5 1087.8,423.5 1089.7,426.6 1091.5,429.7 1093.3,432.8 1169.8,523.9 1176.3,533.1 1187,541.9 1205.1,560 1215,567.6 1215,567.6 1215.1,566.9 1215.3,566.2 1215.5,565.5 1215.6,564.8 1215.7,564.1 1215.8,563.4 1215.7,562.7 1215.7,562 1215.5,561.4 1215.4,560.6 1215.1,559.9 1214.9,559.1 1214.5,558.4 1214.2,557.6 1213.8,556.8 1213.3,556 1212.7,555 1212.1,553.9 1211.4,552.7 1210.5,551.4 1209.6,550 1208.6,548.5 1207.6,546.9 1206.6,545.3 1205.5,543.7 1204.4,542 1203.3,540.2 1202.1,538.4 1200.8,536.6 1199.6,534.7 1198.3,532.7 1197,530.6 1195.7,528.4 1194.3,526.3 1193,524.1 1191.7,522.1 1190.4,520 1189.1,517.9 1187.8,515.8 1186.6,513.8 1185.4,511.8 1184.4,510 1183.4,508.4 1182.6,506.8 1181.9,505.4 1181.2,504 1180.5,502.6 1179.7,501 1178.9,499.4 1178.1,497.7 1177.4,496 1176.6,494.3 1175.8,492.6 1175.1,491 1174.4,489.3 1173.8,487.7 1173.2,486.1 1172.6,484.5 1172,482.9 1171.4,481.2 1170.7,479.4 1170,477.6 1169.4,475.7 1168.7,473.8 1168.1,471.9 1167.5,469.9 1166.9,468 1166.3,466.1 1165.8,464.2 1165.3,462.3 1164.8,460.3 1164.3,458.4 1163.8,456.4 1163.4,454.4 1163,452.4 1162.6,450.4 1162.2,448.4 1161.9,446.4 1161.7,444.3 1161.5,442.2 1161.3,440.1 1161.2,438 1161.1,435.9 1161,433.8 1161,431.7 1161,429.6 1161,427.4 1161,425.3 1161.1,423.2 1161.2,421.1 1161.4,419 1161.6,416.8 1161.9,414.7 1162.2,412.6 1162.5,410.4 1162.9,408.3 1163.3,406.3 1163.8,404.3 1164.3,402.3 1164.9,400.3 1165.5,398.3 1166.3,396.2 1167.1,394 1168,391.6 1168.9,389.3 1170,386.9 1171,384.6 1172.1,382.4 1173.3,380.3 1174.5,378.2 1175.7,376.3 1177,374.3 1178.3,372.4 1179.5,370.4 1183.5,364.5 1185.2,361 1184.8,357.2 1182.3,353.8" fill="#7a0000" stroke="#2a0000" stroke-width="0.8"/>
<polygon points="1082.1,301.1 1081,302.2 1080.1,303.1 1079.2,303.8 1078.3,304.6 1077.4,305.5 1076.4,306.5 1075.5,307.7 1074.5,309 1073.5,310.4 1072.6,311.7 1071.7,313 1070.8,314.3 1069.9,315.5 1069.1,316.7 1068.3,317.8 1067.5,319.1 1066.8,320.3 1066.1,321.5 1065.4,322.8 1064.8,324 1064.2,325.3 1063.6,326.5 1063.1,327.8 1062.7,329.1 1062.2,330.4 1061.9,331.7 1061.5,333 1061.2,334.3 1060.9,335.6 1060.7,336.9 1060.4,338.2 1060.3,339.5 1060.1,340.7 1060,342 1059.9,343.3 1059.8,344.5 1059.8,345.7 1059.8,346.8 1059.9,348 1059.9,349.2 1060,350.6 1060,352.1 1060,353.8 1060.1,355.5 1060.2,357.3 1060.3,359.1 1060.4,360.8 1060.6,362.6 1060.8,364.3 1061,366.2 1061.4,368.2 1061.7,370.5 1062.1,372.8 1062.6,375.3 1063.1,377.9 1063.7,380.5 1064.4,383.2 1065.2,386.1 1066.1,388.9 1067,391.7 1067.9,394.5 1068.9,397.2 1070,399.9 1071.2,402.5 1072.3,405.1 1073.6,407.7 1074.8,410.2 1076,412.6 1077.3,415 1078.6,417.5 1080.1,420.1 1081.7,423 1083.5,426 1085.3,429.1 1087.1,432.3 1088.9,435.3 1164.8,527.4 1164.8,527.4 1164.2,526.4 1163.5,525.5 1162.9,524.6 1162.2,523.7 1161.5,522.8 1160.9,521.8 1160.3,520.8 1159.7,519.9 1159.1,518.9 1158.4,517.8 1157.8,516.8 1157.1,515.6 1156.4,514.3 1155.7,513 1154.9,511.6 1154.1,510.2 1153.3,508.7 1152.6,507.2 1151.8,505.7 1150.9,504 1150.1,502.4 1149.3,500.7 1148.5,499 1147.8,497.4 1147.1,495.8 1146.6,494.3 1146,492.8 1145.5,491.3 1144.9,489.7 1144.3,488.1 1143.7,486.3 1143,484.5 1142.3,482.6 1141.7,480.7 1141,478.8 1140.4,476.8 1139.8,474.9 1139.3,473 1138.8,471 1138.3,469.1 1137.8,467.1 1137.3,465.1 1136.9,463.1 1136.5,461.1 1136,459.2 1135.6,457.1 1135.2,455.1 1134.8,452.9 1134.5,450.8 1134.1,448.5 1133.7,446.2 1133.3,443.8 1133,441.5 1132.7,439.2 1132.5,436.9 1132.2,434.6 1132,432.2 1131.8,429.9 1131.7,427.5 1131.6,425.1 1131.5,422.7 1131.5,420.2 1131.5,417.6 1131.5,415 1131.6,412.5 1131.7,410 1131.8,407.6 1132.1,405.2 1132.3,402.8 1132.6,400.5 1133,398.2 1133.3,395.9 1133.8,393.7 1134.2,391.5 1134.8,389.3 1135.3,387.2 1135.9,385.1 1136.5,383 1137.1,380.9 1137.8,378.8 1138.6,376.6 1139.3,374.5 1140.1,372.5 1140.8,370.5 1141.6,368.5 1142.5,366.5 1143.3,364.5 1144.2,362.6 1145,360.7 1145.8,359 1146.6,357.4 1147.3,355.9 1148.1,354.5 1148.8,353.1 1149.6,351.8 1150.3,350.5 1151,349.2 1151.8,347.9 1152.5,346.6 1153.3,345.4 1154,344.1 1154.8,342.9 1154.7,343" fill="#83869b" stroke="#3a3a48" stroke-width="0.6"/>
<polygon points="1154.7,343 1154.8,342.9 1154,344.1 1153.3,345.4 1152.5,346.6 1151.8,347.9 1151,349.2 1150.3,350.5 1149.6,351.8 1148.8,353.1 1148.1,354.5 1147.3,355.9 1146.6,357.4 1145.8,359 1145,360.7 1144.2,362.6 1143.3,364.5 1142.5,366.5 1141.6,368.5 1140.8,370.5 1140.1,372.5 1139.3,374.5 1138.6,376.6 1137.8,378.8 1137.1,380.9 1136.5,383 1135.9,385.1 1135.3,387.2 1134.8,389.3 1134.2,391.5 1133.8,393.7 1133.3,395.9 1133,398.2 1132.6,400.5 1132.3,402.8 1132.1,405.2 1131.8,407.6 1131.7,410 1131.6,412.5 1131.5,415 1131.5,417.6 1131.5,420.2 1131.5,422.7 1131.6,425.1 1131.7,427.5 1131.8,429.9 1132,432.2 1132.2,434.6 1132.5,436.9 1132.7,439.2 1133,441.5 1133.3,443.8 1133.7,446.2 1134.1,448.5 1134.5,450.8 1134.8,452.9 1135.2,455.1 1135.6,457.1 1136,459.2 1136.5,461.1 1136.9,463.1 1137.3,465.1 1137.8,467.1 1138.3,469.1 1138.8,471 1139.3,473 1139.8,474.9 1140.4,476.8 1141,478.8 1141.7,480.7 1142.3,482.6 1143,484.5 1143.7,486.3 1144.3,488.1 1144.9,489.7 1145.5,491.3 1146,492.8 1146.6,494.3 1147.1,495.8 1147.8,497.4 1148.5,499 1149.3,500.7 1150.1,502.4 1150.9,504 1151.8,505.7 1152.6,507.2 1153.3,508.7 1154.1,510.2 1154.9,511.6 1155.7,513 1156.4,514.3 1157.1,515.6 1157.8,516.8 1158.4,517.8 1159.1,518.9 1159.7,519.9 1160.3,520.8 1160.9,521.8 1161.5,522.8 1162.2,523.7 1162.9,524.6 1163.5,525.5 1164.2,526.4 1164.8,527.4 1165.4,526.5 1171.9,535.6 1182.7,544.5 1200.7,562.6 1210.6,570.1 1210.6,570.1 1210.7,569.4 1210.9,568.7 1211.1,568 1211.3,567.4 1211.4,566.7 1211.4,566 1211.4,565.3 1211.3,564.6 1211.2,563.9 1211,563.2 1210.8,562.4 1210.5,561.7 1210.2,560.9 1209.8,560.1 1209.4,559.3 1208.9,558.5 1208.4,557.5 1207.7,556.5 1207,555.2 1206.1,553.9 1205.2,552.5 1204.3,551 1203.2,549.4 1202.2,547.8 1201.1,546.2 1200,544.5 1198.9,542.8 1197.7,541 1196.5,539.1 1195.2,537.2 1194,535.2 1192.6,533.1 1191.3,531 1189.9,528.8 1188.6,526.7 1187.3,524.6 1186,522.5 1184.7,520.4 1183.4,518.3 1182.2,516.3 1181,514.4 1180,512.5 1179.1,510.9 1178.2,509.4 1177.5,507.9 1176.8,506.5 1176.1,505.1 1175.3,503.6 1174.6,501.9 1173.8,500.3 1173,498.6 1172.2,496.9 1171.4,495.2 1170.7,493.5 1170,491.9 1169.4,490.3 1168.8,488.7 1168.2,487.1 1167.6,485.4 1167,483.7 1166.3,481.9 1165.7,480.1 1165,478.2 1164.3,476.3 1163.7,474.4 1163.1,472.5 1162.5,470.6 1161.9,468.7 1161.4,466.7 1160.9,464.8 1160.4,462.9 1159.9,460.9 1159.5,458.9 1159,457 1158.6,455 1158.2,453 1157.8,450.9 1157.5,448.9 1157.3,446.8 1157.1,444.7 1156.9,442.6 1156.8,440.5 1156.7,438.4 1156.6,436.3 1156.6,434.2 1156.6,432.1 1156.6,430 1156.6,427.9 1156.7,425.8 1156.8,423.6 1157,421.5 1157.2,419.4 1157.5,417.2 1157.8,415.1 1158.1,413 1158.5,410.9 1158.9,408.8 1159.4,406.8 1159.9,404.9 1160.5,402.9 1161.1,400.8 1161.9,398.7 1162.7,396.5 1163.6,394.2 1164.6,391.8 1165.6,389.4 1166.6,387.1 1167.7,384.9 1168.9,382.8 1170.1,380.8 1171.3,378.8 1172.6,376.8 1173.9,374.9 1175.1,372.9 1179.1,367.1 1180.9,363.6 1180.4,359.8 1177.9,356.4" fill="#b00000" stroke="#1a0000" stroke-width="1.1"/>
<polygon points="1021.9,619.1 1173.1,531.8 1201.9,565.9 1050.8,653.1" fill="#7070d0" stroke="#15154a" stroke-width="0.9"/>
<polygon points="1050.8,653.1 1201.9,565.9 1204.2,575.5 1053.1,662.8" fill="#5050aa" stroke="#15154a" stroke-width="0.9"/>
<polygon points="1052.5,383.5 1053.6,387.8 1054.7,392.1 1056,396.3 1057.5,400.6 1059.1,404.8 1061,409.2 1063,413.5 1065.2,418 1067.5,422.4 1070.1,427.1 1072.7,431.9 1075,435.8 1076.4,438.3 1077.5,440 1079.1,442.2 1081.6,445.4 1084.6,449.1 1088.3,453.7 1093,459.2 1098.3,465.5 1104,472.2 1110,479.3 1116.4,486.8 1122.8,494.4 1129.3,502.1 1135.9,509.8 1141.6,516.6 1146,521.8 1149.6,526.1 1152.9,529.9 1155.7,533.3 1158.2,536.2 1160.7,539.2 1158.5,542.8 1156,539.9 1153.5,536.9 1150.6,533.5 1147.4,529.7 1143.8,525.5 1139.4,520.2 1133.7,513.5 1127.1,505.7 1120.6,498 1114.2,490.5 1107.8,482.9 1101.8,475.8 1096.1,469.1 1090.7,462.8 1086.1,457.2 1082.3,452.6 1079.1,448.8 1076.5,445.4 1074.6,442.8 1073.2,440.5 1071.6,437.8 1069.2,433.7 1066.5,428.9 1063.9,424 1061.5,419.4 1059.2,414.7 1057,410 1055,405.4 1053.2,400.8 1051.6,396.1 1050.2,391.4 1049.1,387 1048,382.7" fill="#980610" stroke="#200000" stroke-width="0.9"/>
<polygon points="1160.7,539.2 1167.5,535.2 1165.3,538.9 1158.5,542.8" fill="#9a0000" stroke="#4a0000" stroke-width="0.6"/>
<polygon points="1052.5,383.5 1053.6,387.8 1054.7,392.1 1056,396.3 1057.5,400.6 1059.1,404.8 1061,409.2 1063,413.5 1065.2,418 1067.5,422.4 1070.1,427.1 1072.7,431.9 1075,435.8 1076.4,438.3 1077.5,440 1079.1,442.2 1081.6,445.4 1084.6,449.1 1088.3,453.7 1093,459.2 1098.3,465.5 1104,472.2 1110,479.3 1116.4,486.8 1122.8,494.4 1129.3,502.1 1135.9,509.8 1141.6,516.6 1146,521.8 1149.6,526.1 1152.9,529.9 1155.7,533.3 1158.2,536.2 1160.7,539.2 1167.5,535.2 1165,532.3 1162.5,529.4 1159.7,526 1156.4,522.2 1152.8,517.9 1148.4,512.7 1142.7,505.9 1136.1,498.2 1129.6,490.5 1123.2,482.9 1116.8,475.4 1110.8,468.2 1105.1,461.5 1099.8,455.2 1095.1,449.7 1091.4,445.2 1088.4,441.5 1085.9,438.3 1084.3,436.1 1083.2,434.4 1081.8,431.9 1079.5,428 1076.8,423.2 1074.3,418.5 1072,414.1 1069.8,409.6 1067.8,405.2 1065.9,400.9 1064.3,396.7 1062.8,392.4 1061.5,388.1 1060.4,383.9 1059.3,379.6" fill="#be0812" stroke="#200000" stroke-width="0.9"/>
<polygon points="1161.8,537.5 1165,535.6 1177.1,551.2 1176.4,554 1173.8,553.1" fill="#a60a14" stroke="#2a0008" stroke-width="0.8"/>
<polygon points="1162.5,539 1173.8,553.1 1176.4,554 1173.3,554.8 1161.4,540.7" fill="#6a0008"/>
<polygon points="1038.9,391.3 1040,395.6 1041.1,399.9 1042.4,404.2 1043.9,408.4 1045.6,412.7 1047.4,417 1049.4,421.4 1051.6,425.8 1053.9,430.3 1056.5,435 1059.1,439.7 1061.4,443.7 1062.8,446.1 1063.9,447.8 1065.6,450.1 1068,453.2 1071,457 1074.8,461.5 1079.4,467 1084.7,473.3 1090.4,480 1096.5,487.1 1102.8,494.7 1109.2,502.2 1115.8,509.9 1122.3,517.7 1128,524.4 1132.5,529.7 1136.1,533.9 1139.3,537.7 1142.2,541.1 1144.6,544.1 1147.1,547 1144.9,550.6 1142.4,547.7 1139.9,544.8 1137.1,541.4 1133.8,537.6 1130.2,533.3 1125.8,528.1 1120.1,521.3 1113.5,513.6 1107,505.8 1100.6,498.3 1094.2,490.8 1088.2,483.6 1082.5,476.9 1077.2,470.6 1072.5,465.1 1068.7,460.5 1065.6,456.6 1063,453.2 1061,450.6 1059.6,448.3 1058,445.6 1055.7,441.6 1052.9,436.7 1050.3,431.8 1047.9,427.2 1045.6,422.6 1043.4,417.9 1041.5,413.2 1039.7,408.7 1038,404 1036.6,399.3 1035.5,394.8 1034.4,390.5" fill="#980610" stroke="#200000" stroke-width="0.9"/>
<polygon points="1147.1,547 1153.9,543.1 1151.7,546.7 1144.9,550.6" fill="#9a0000" stroke="#4a0000" stroke-width="0.6"/>
<polygon points="1038.9,391.3 1040,395.6 1041.1,399.9 1042.4,404.2 1043.9,408.4 1045.6,412.7 1047.4,417 1049.4,421.4 1051.6,425.8 1053.9,430.3 1056.5,435 1059.1,439.7 1061.4,443.7 1062.8,446.1 1063.9,447.8 1065.6,450.1 1068,453.2 1071,457 1074.8,461.5 1079.4,467 1084.7,473.3 1090.4,480 1096.5,487.1 1102.8,494.7 1109.2,502.2 1115.8,509.9 1122.3,517.7 1128,524.4 1132.5,529.7 1136.1,533.9 1139.3,537.7 1142.2,541.1 1144.6,544.1 1147.1,547 1153.9,543.1 1151.4,540.1 1148.9,537.2 1146.1,533.8 1142.9,530 1139.2,525.7 1134.8,520.5 1129.1,513.8 1122.6,506 1116,498.3 1109.6,490.8 1103.2,483.2 1097.2,476.1 1091.5,469.4 1086.2,463.1 1081.6,457.6 1077.8,453.1 1074.8,449.3 1072.3,446.2 1070.7,443.9 1069.6,442.2 1068.2,439.7 1065.9,435.8 1063.3,431.1 1060.7,426.3 1058.4,421.9 1056.2,417.5 1054.2,413.1 1052.3,408.8 1050.7,404.5 1049.2,400.3 1047.9,396 1046.8,391.7 1045.7,387.4" fill="#be0812" stroke="#200000" stroke-width="0.9"/>
<polygon points="1148.2,545.3 1151.5,543.5 1163.5,559 1162.8,561.8 1160.3,560.9" fill="#a60a14" stroke="#2a0008" stroke-width="0.8"/>
<polygon points="1148.9,546.9 1160.3,560.9 1162.8,561.8 1159.8,562.6 1147.9,548.5" fill="#6a0008"/>
<polygon points="1025.4,399.1 1026.5,403.4 1027.6,407.7 1028.9,412 1030.4,416.2 1032,420.5 1033.9,424.8 1035.9,429.2 1038.1,433.6 1040.4,438.1 1043,442.8 1045.6,447.5 1047.9,451.5 1049.3,453.9 1050.4,455.6 1052.1,457.9 1054.5,461 1057.5,464.8 1061.3,469.3 1065.9,474.8 1071.2,481.1 1076.9,487.8 1083,494.9 1089.3,502.5 1095.7,510 1102.3,517.7 1108.8,525.5 1114.5,532.2 1119,537.5 1122.6,541.7 1125.8,545.5 1128.7,548.9 1131.1,551.9 1133.6,554.8 1131.4,558.4 1128.9,555.5 1126.4,552.6 1123.6,549.2 1120.3,545.4 1116.7,541.1 1112.3,535.8 1106.6,529.1 1100,521.4 1093.5,513.6 1087.1,506.1 1080.7,498.6 1074.7,491.4 1069,484.7 1063.6,478.4 1059,472.9 1055.2,468.3 1052.1,464.4 1049.4,461 1047.5,458.4 1046.1,456.1 1044.5,453.4 1042.2,449.4 1039.4,444.5 1036.8,439.6 1034.4,435 1032.1,430.4 1029.9,425.7 1028,421 1026.2,416.4 1024.5,411.8 1023.1,407.1 1022,402.6 1020.9,398.3" fill="#980610" stroke="#200000" stroke-width="0.9"/>
<polygon points="1133.6,554.8 1140.4,550.9 1138.2,554.5 1131.4,558.4" fill="#9a0000" stroke="#4a0000" stroke-width="0.6"/>
<polygon points="1025.4,399.1 1026.5,403.4 1027.6,407.7 1028.9,412 1030.4,416.2 1032,420.5 1033.9,424.8 1035.9,429.2 1038.1,433.6 1040.4,438.1 1043,442.8 1045.6,447.5 1047.9,451.5 1049.3,453.9 1050.4,455.6 1052.1,457.9 1054.5,461 1057.5,464.8 1061.3,469.3 1065.9,474.8 1071.2,481.1 1076.9,487.8 1083,494.9 1089.3,502.5 1095.7,510 1102.3,517.7 1108.8,525.5 1114.5,532.2 1119,537.5 1122.6,541.7 1125.8,545.5 1128.7,548.9 1131.1,551.9 1133.6,554.8 1140.4,550.9 1137.9,547.9 1135.4,545 1132.6,541.6 1129.3,537.8 1125.7,533.5 1121.3,528.3 1115.6,521.6 1109,513.8 1102.5,506.1 1096.1,498.5 1089.7,491 1083.7,483.9 1078,477.2 1072.7,470.9 1068,465.4 1064.3,460.9 1061.3,457.1 1058.8,453.9 1057.2,451.7 1056.1,450 1054.7,447.5 1052.4,443.6 1049.8,438.9 1047.2,434.1 1044.9,429.7 1042.7,425.3 1040.7,420.9 1038.8,416.6 1037.2,412.3 1035.7,408.1 1034.4,403.8 1033.3,399.5 1032.2,395.2" fill="#be0812" stroke="#200000" stroke-width="0.9"/>
<polygon points="1134.7,553.1 1137.9,551.3 1150,566.8 1149.3,569.6 1146.8,568.7" fill="#a60a14" stroke="#2a0008" stroke-width="0.8"/>
<polygon points="1135.4,554.7 1146.8,568.7 1149.3,569.6 1146.3,570.4 1134.4,556.3" fill="#6a0008"/>
<polygon points="1011.9,406.9 1013,411.2 1014.1,415.5 1015.4,419.8 1016.9,424 1018.5,428.3 1020.4,432.6 1022.4,437 1024.6,441.4 1026.9,445.9 1029.5,450.6 1032.1,455.3 1034.4,459.3 1035.8,461.7 1036.9,463.4 1038.6,465.7 1041,468.8 1044,472.6 1047.8,477.1 1052.4,482.6 1057.7,488.9 1063.4,495.6 1069.4,502.7 1075.8,510.3 1082.2,517.8 1088.8,525.5 1095.3,533.3 1101,540 1105.4,545.3 1109.1,549.5 1112.3,553.3 1115.1,556.7 1117.6,559.7 1120.1,562.6 1117.9,566.2 1115.4,563.3 1112.9,560.4 1110.1,557 1106.8,553.2 1103.2,548.9 1098.8,543.6 1093.1,536.9 1086.5,529.2 1080,521.4 1073.6,513.9 1067.2,506.4 1061.2,499.2 1055.5,492.5 1050.1,486.2 1045.5,480.7 1041.7,476.1 1038.6,472.2 1035.9,468.8 1034,466.2 1032.6,463.9 1031,461.2 1028.6,457.2 1025.9,452.3 1023.3,447.4 1020.9,442.8 1018.6,438.2 1016.4,433.5 1014.5,428.8 1012.7,424.2 1011,419.6 1009.6,414.9 1008.5,410.4 1007.4,406.1" fill="#980610" stroke="#200000" stroke-width="0.9"/>
<polygon points="1120.1,562.6 1126.9,558.7 1124.7,562.3 1117.9,566.2" fill="#9a0000" stroke="#4a0000" stroke-width="0.6"/>
<polygon points="1011.9,406.9 1013,411.2 1014.1,415.5 1015.4,419.8 1016.9,424 1018.5,428.3 1020.4,432.6 1022.4,437 1024.6,441.4 1026.9,445.9 1029.5,450.6 1032.1,455.3 1034.4,459.3 1035.8,461.7 1036.9,463.4 1038.6,465.7 1041,468.8 1044,472.6 1047.8,477.1 1052.4,482.6 1057.7,488.9 1063.4,495.6 1069.4,502.7 1075.8,510.3 1082.2,517.8 1088.8,525.5 1095.3,533.3 1101,540 1105.4,545.3 1109.1,549.5 1112.3,553.3 1115.1,556.7 1117.6,559.7 1120.1,562.6 1126.9,558.7 1124.4,555.7 1121.9,552.8 1119.1,549.4 1115.8,545.6 1112.2,541.3 1107.8,536.1 1102.1,529.3 1095.5,521.6 1089,513.9 1082.6,506.3 1076.2,498.8 1070.2,491.7 1064.5,485 1059.2,478.7 1054.5,473.2 1050.8,468.7 1047.8,464.9 1045.3,461.7 1043.7,459.5 1042.6,457.8 1041.2,455.3 1038.9,451.4 1036.3,446.7 1033.7,441.9 1031.4,437.5 1029.2,433 1027.2,428.7 1025.3,424.4 1023.7,420.1 1022.2,415.8 1020.9,411.6 1019.8,407.3 1018.7,403" fill="#be0812" stroke="#200000" stroke-width="0.9"/>
<polygon points="1121.2,560.9 1124.4,559.1 1136.5,574.6 1135.8,577.4 1133.3,576.5" fill="#a60a14" stroke="#2a0008" stroke-width="0.8"/>
<polygon points="1121.9,562.5 1133.3,576.5 1135.8,577.4 1132.8,578.2 1120.8,564.1" fill="#6a0008"/>
<polygon points="998.3,414.8 999.4,419 1000.5,423.3 1001.8,427.6 1003.3,431.9 1005,436.1 1006.8,440.4 1008.8,444.8 1011,449.2 1013.4,453.7 1015.9,458.4 1018.5,463.1 1020.8,467.1 1022.2,469.6 1023.3,471.3 1025,473.5 1027.4,476.7 1030.4,480.4 1034.2,484.9 1038.8,490.4 1044.1,496.7 1049.8,503.4 1055.9,510.6 1062.3,518.1 1068.6,525.6 1075.2,533.4 1081.7,541.1 1087.4,547.8 1091.9,553.1 1095.5,557.4 1098.7,561.2 1101.6,564.6 1104.1,567.5 1106.5,570.4 1104.3,574.1 1101.8,571.1 1099.3,568.2 1096.5,564.8 1093.2,561 1089.6,556.7 1085.2,551.5 1079.5,544.7 1072.9,537 1066.4,529.3 1060,521.7 1053.6,514.2 1047.6,507.1 1041.9,500.4 1036.6,494.1 1031.9,488.5 1028.1,483.9 1025,480 1022.4,476.7 1020.4,474 1019,471.8 1017.4,469.1 1015.1,465 1012.4,460.1 1009.7,455.3 1007.3,450.7 1005,446 1002.9,441.3 1000.9,436.7 999.1,432.1 997.4,427.4 996,422.7 994.9,418.2 993.8,414" fill="#980610" stroke="#200000" stroke-width="0.9"/>
<polygon points="1106.5,570.4 1113.3,566.5 1111.1,570.1 1104.3,574.1" fill="#9a0000" stroke="#4a0000" stroke-width="0.6"/>
<polygon points="998.3,414.8 999.4,419 1000.5,423.3 1001.8,427.6 1003.3,431.9 1005,436.1 1006.8,440.4 1008.8,444.8 1011,449.2 1013.4,453.7 1015.9,458.4 1018.5,463.1 1020.8,467.1 1022.2,469.6 1023.3,471.3 1025,473.5 1027.4,476.7 1030.4,480.4 1034.2,484.9 1038.8,490.4 1044.1,496.7 1049.8,503.4 1055.9,510.6 1062.3,518.1 1068.6,525.6 1075.2,533.4 1081.7,541.1 1087.4,547.8 1091.9,553.1 1095.5,557.4 1098.7,561.2 1101.6,564.6 1104.1,567.5 1106.5,570.4 1113.3,566.5 1110.8,563.6 1108.4,560.6 1105.5,557.3 1102.3,553.4 1098.7,549.2 1094.2,543.9 1088.5,537.2 1082,529.5 1075.4,521.7 1069,514.2 1062.7,506.6 1056.6,499.5 1050.9,492.8 1045.6,486.5 1041,481 1037.2,476.5 1034.2,472.8 1031.8,469.6 1030.1,467.3 1029,465.6 1027.6,463.2 1025.3,459.2 1022.7,454.5 1020.1,449.8 1017.8,445.3 1015.6,440.9 1013.6,436.5 1011.8,432.2 1010.1,427.9 1008.6,423.7 1007.3,419.4 1006.2,415.1 1005.1,410.8" fill="#be0812" stroke="#200000" stroke-width="0.9"/>
<polygon points="1107.6,568.8 1110.9,566.9 1122.9,582.4 1122.2,585.2 1119.7,584.3" fill="#a60a14" stroke="#2a0008" stroke-width="0.8"/>
<polygon points="1108.3,570.3 1119.7,584.3 1122.2,585.2 1119.2,586 1107.3,572" fill="#6a0008"/>
<polygon points="984.8,422.6 985.9,426.8 987,431.1 988.3,435.4 989.8,439.7 991.5,443.9 993.3,448.2 995.3,452.6 997.5,457 999.8,461.5 1002.4,466.2 1005,470.9 1007.3,474.9 1008.7,477.4 1009.8,479.1 1011.5,481.3 1013.9,484.5 1016.9,488.2 1020.7,492.7 1025.3,498.2 1030.6,504.5 1036.3,511.2 1042.4,518.4 1048.7,525.9 1055.1,533.4 1061.7,541.2 1068.2,548.9 1073.9,555.6 1078.4,560.9 1082,565.2 1085.2,569 1088.1,572.4 1090.5,575.3 1093,578.2 1090.8,581.9 1088.3,578.9 1085.8,576 1083,572.6 1079.7,568.8 1076.1,564.5 1071.7,559.3 1066,552.5 1059.4,544.8 1052.9,537.1 1046.5,529.5 1040.1,522 1034.1,514.9 1028.4,508.2 1023.1,501.9 1018.4,496.3 1014.6,491.7 1011.5,487.8 1008.9,484.5 1006.9,481.8 1005.5,479.6 1003.9,476.9 1001.6,472.8 998.9,467.9 996.2,463.1 993.8,458.4 991.5,453.8 989.3,449.1 987.4,444.5 985.6,439.9 983.9,435.2 982.5,430.5 981.4,426 980.3,421.8" fill="#980610" stroke="#200000" stroke-width="0.9"/>
<polygon points="1093,578.2 1099.8,574.3 1097.6,577.9 1090.8,581.9" fill="#9a0000" stroke="#4a0000" stroke-width="0.6"/>
<polygon points="984.8,422.6 985.9,426.8 987,431.1 988.3,435.4 989.8,439.7 991.5,443.9 993.3,448.2 995.3,452.6 997.5,457 999.8,461.5 1002.4,466.2 1005,470.9 1007.3,474.9 1008.7,477.4 1009.8,479.1 1011.5,481.3 1013.9,484.5 1016.9,488.2 1020.7,492.7 1025.3,498.2 1030.6,504.5 1036.3,511.2 1042.4,518.4 1048.7,525.9 1055.1,533.4 1061.7,541.2 1068.2,548.9 1073.9,555.6 1078.4,560.9 1082,565.2 1085.2,569 1088.1,572.4 1090.5,575.3 1093,578.2 1099.8,574.3 1097.3,571.4 1094.9,568.4 1092,565.1 1088.8,561.2 1085.2,557 1080.7,551.7 1075,545 1068.5,537.3 1061.9,529.5 1055.5,522 1049.2,514.4 1043.1,507.3 1037.4,500.6 1032.1,494.3 1027.5,488.8 1023.7,484.3 1020.7,480.6 1018.3,477.4 1016.6,475.1 1015.5,473.4 1014.1,471 1011.8,467 1009.2,462.3 1006.6,457.6 1004.3,453.1 1002.1,448.7 1000.1,444.3 998.2,440 996.6,435.7 995.1,431.5 993.8,427.2 992.7,422.9 991.6,418.6" fill="#be0812" stroke="#200000" stroke-width="0.9"/>
<polygon points="1094.1,576.6 1097.4,574.7 1109.4,590.2 1108.7,593 1106.2,592.1" fill="#a60a14" stroke="#2a0008" stroke-width="0.8"/>
<polygon points="1094.8,578.1 1106.2,592.1 1108.7,593 1105.7,593.8 1093.8,579.8" fill="#6a0008"/>
<polygon points="971.3,430.3 972.4,434.6 973.5,438.9 974.8,443.2 976.3,447.5 978,451.7 979.8,456 981.8,460.4 984,464.8 986.3,469.3 988.9,474 991.5,478.7 993.8,482.7 995.2,485.2 996.3,486.8 998,489.1 1000.4,492.3 1003.4,496 1007.2,500.5 1011.8,506 1017.1,512.3 1022.8,519 1028.9,526.2 1035.2,533.7 1041.6,541.2 1048.2,549 1054.7,556.7 1060.4,563.4 1064.9,568.7 1068.5,573 1071.7,576.8 1074.6,580.2 1077,583.1 1079.5,586 1077.3,589.7 1074.8,586.7 1072.3,583.8 1069.5,580.4 1066.2,576.6 1062.6,572.3 1058.2,567.1 1052.5,560.3 1045.9,552.6 1039.4,544.9 1033,537.3 1026.6,529.8 1020.6,522.7 1014.9,516 1009.6,509.7 1004.9,504.1 1001.1,499.5 998,495.6 995.4,492.3 993.4,489.6 992,487.4 990.4,484.7 988.1,480.6 985.3,475.7 982.7,470.9 980.3,466.2 978,461.6 975.8,456.9 973.9,452.3 972.1,447.7 970.4,443 969,438.3 967.9,433.8 966.8,429.5" fill="#980610" stroke="#200000" stroke-width="0.9"/>
<polygon points="1079.5,586 1086.3,582.1 1084.1,585.7 1077.3,589.7" fill="#9a0000" stroke="#4a0000" stroke-width="0.6"/>
<polygon points="971.3,430.3 972.4,434.6 973.5,438.9 974.8,443.2 976.3,447.5 978,451.7 979.8,456 981.8,460.4 984,464.8 986.3,469.3 988.9,474 991.5,478.7 993.8,482.7 995.2,485.2 996.3,486.8 998,489.1 1000.4,492.3 1003.4,496 1007.2,500.5 1011.8,506 1017.1,512.3 1022.8,519 1028.9,526.2 1035.2,533.7 1041.6,541.2 1048.2,549 1054.7,556.7 1060.4,563.4 1064.9,568.7 1068.5,573 1071.7,576.8 1074.6,580.2 1077,583.1 1079.5,586 1086.3,582.1 1083.8,579.2 1081.3,576.2 1078.5,572.8 1075.3,569 1071.6,564.8 1067.2,559.5 1061.5,552.8 1055,545 1048.4,537.3 1042,529.8 1035.6,522.2 1029.6,515.1 1023.9,508.4 1018.6,502.1 1014,496.6 1010.2,492.1 1007.2,488.4 1004.8,485.2 1003.1,482.9 1002,481.2 1000.6,478.8 998.3,474.8 995.7,470.1 993.1,465.4 990.8,460.9 988.6,456.5 986.6,452.1 984.7,447.8 983.1,443.5 981.6,439.3 980.3,435 979.2,430.7 978.1,426.4" fill="#be0812" stroke="#200000" stroke-width="0.9"/>
<polygon points="1080.6,584.4 1083.9,582.5 1095.9,598 1095.2,600.8 1092.7,599.9" fill="#a60a14" stroke="#2a0008" stroke-width="0.8"/>
<polygon points="1081.3,585.9 1092.7,599.9 1095.2,600.8 1092.2,601.6 1080.3,587.6" fill="#6a0008"/>
<polygon points="957.8,438.2 958.9,442.5 960,446.8 961.2,451 962.7,455.3 964.4,459.5 966.2,463.8 968.3,468.2 970.5,472.7 972.8,477.1 975.3,481.8 977.9,486.6 980.2,490.5 981.7,493 982.7,494.7 984.4,496.9 986.8,500.1 989.9,503.8 993.6,508.4 998.2,513.9 1003.6,520.2 1009.2,526.9 1015.3,534 1021.7,541.5 1028,549.1 1034.6,556.8 1041.1,564.5 1046.8,571.3 1051.3,576.5 1054.9,580.8 1058.1,584.6 1061,588 1063.5,590.9 1065.9,593.9 1063.7,597.5 1061.2,594.6 1058.8,591.6 1055.9,588.2 1052.7,584.4 1049.1,580.2 1044.6,574.9 1038.9,568.2 1032.4,560.4 1025.8,552.7 1019.4,545.2 1013.1,537.6 1007,530.5 1001.3,523.8 996,517.5 991.3,511.9 987.5,507.3 984.4,503.5 981.8,500.1 979.9,497.5 978.4,495.2 976.8,492.5 974.5,488.4 971.8,483.6 969.2,478.7 966.8,474.1 964.4,469.4 962.3,464.7 960.3,460.1 958.5,455.5 956.8,450.8 955.5,446.1 954.3,441.7 953.2,437.4" fill="#980610" stroke="#200000" stroke-width="0.9"/>
<polygon points="1065.9,593.9 1072.7,589.9 1070.5,593.6 1063.7,597.5" fill="#9a0000" stroke="#4a0000" stroke-width="0.6"/>
<polygon points="957.8,438.2 958.9,442.5 960,446.8 961.2,451 962.7,455.3 964.4,459.5 966.2,463.8 968.3,468.2 970.5,472.7 972.8,477.1 975.3,481.8 977.9,486.6 980.2,490.5 981.7,493 982.7,494.7 984.4,496.9 986.8,500.1 989.9,503.8 993.6,508.4 998.2,513.9 1003.6,520.2 1009.2,526.9 1015.3,534 1021.7,541.5 1028,549.1 1034.6,556.8 1041.1,564.5 1046.8,571.3 1051.3,576.5 1054.9,580.8 1058.1,584.6 1061,588 1063.5,590.9 1065.9,593.9 1072.7,589.9 1070.3,587 1067.8,584.1 1064.9,580.7 1061.7,576.9 1058.1,572.6 1053.6,567.4 1047.9,560.6 1041.4,552.9 1034.8,545.2 1028.5,537.6 1022.1,530.1 1016,522.9 1010.3,516.2 1005,509.9 1000.4,504.4 996.6,499.9 993.6,496.2 991.2,493 989.5,490.8 988.4,489.1 987,486.6 984.7,482.7 982.1,477.9 979.6,473.2 977.2,468.8 975,464.3 973,459.9 971.2,455.6 969.5,451.4 968,447.1 966.7,442.8 965.6,438.6 964.5,434.3" fill="#be0812" stroke="#200000" stroke-width="0.9"/>
<polygon points="1067,592.2 1070.3,590.3 1082.3,605.9 1081.6,608.7 1079.1,607.8" fill="#a60a14" stroke="#2a0008" stroke-width="0.8"/>
<polygon points="1067.7,593.7 1079.1,607.8 1081.6,608.7 1078.6,609.5 1066.7,595.4" fill="#6a0008"/>
<polygon points="944.2,446 945.3,450.3 946.4,454.6 947.7,458.8 949.2,463.1 950.9,467.3 952.7,471.6 954.7,476 957,480.5 959.3,484.9 961.8,489.6 964.4,494.4 966.7,498.3 968.2,500.8 969.2,502.5 970.9,504.7 973.3,507.9 976.3,511.6 980.1,516.2 984.7,521.7 990.1,528 995.7,534.7 1001.8,541.8 1008.2,549.3 1014.5,556.9 1021.1,564.6 1027.6,572.3 1033.3,579.1 1037.8,584.3 1041.4,588.6 1044.6,592.4 1047.5,595.8 1050,598.7 1052.4,601.7 1050.2,605.3 1047.7,602.4 1045.2,599.4 1042.4,596 1039.2,592.2 1035.5,588 1031.1,582.7 1025.4,576 1018.9,568.2 1012.3,560.5 1005.9,553 999.5,545.4 993.5,538.3 987.8,531.6 982.5,525.3 977.8,519.7 974,515.1 970.9,511.3 968.3,507.9 966.4,505.3 964.9,503 963.3,500.3 961,496.2 958.3,491.4 955.6,486.5 953.3,481.9 950.9,477.2 948.8,472.5 946.8,467.9 945,463.3 943.3,458.6 941.9,453.9 940.8,449.5 939.7,445.2" fill="#980610" stroke="#200000" stroke-width="0.9"/>
<polygon points="1052.4,601.7 1059.2,597.7 1057,601.4 1050.2,605.3" fill="#9a0000" stroke="#4a0000" stroke-width="0.6"/>
<polygon points="944.2,446 945.3,450.3 946.4,454.6 947.7,458.8 949.2,463.1 950.9,467.3 952.7,471.6 954.7,476 957,480.5 959.3,484.9 961.8,489.6 964.4,494.4 966.7,498.3 968.2,500.8 969.2,502.5 970.9,504.7 973.3,507.9 976.3,511.6 980.1,516.2 984.7,521.7 990.1,528 995.7,534.7 1001.8,541.8 1008.2,549.3 1014.5,556.9 1021.1,564.6 1027.6,572.3 1033.3,579.1 1037.8,584.3 1041.4,588.6 1044.6,592.4 1047.5,595.8 1050,598.7 1052.4,601.7 1059.2,597.7 1056.7,594.8 1054.3,591.9 1051.4,588.5 1048.2,584.7 1044.6,580.4 1040.1,575.2 1034.4,568.4 1027.9,560.7 1021.3,552.9 1014.9,545.4 1008.6,537.9 1002.5,530.7 996.8,524 991.5,517.7 986.9,512.2 983.1,507.7 980.1,504 977.7,500.8 976,498.6 974.9,496.9 973.5,494.4 971.2,490.4 968.6,485.7 966.1,481 963.7,476.5 961.5,472.1 959.5,467.7 957.7,463.4 956,459.2 954.5,454.9 953.2,450.6 952.1,446.3 951,442.1" fill="#be0812" stroke="#200000" stroke-width="0.9"/>
<polygon points="1053.5,600 1056.8,598.1 1068.8,613.7 1068.1,616.4 1065.6,615.6" fill="#a60a14" stroke="#2a0008" stroke-width="0.8"/>
<polygon points="1054.2,601.5 1065.6,615.6 1068.1,616.4 1065.1,617.3 1053.2,603.2" fill="#6a0008"/>
<polygon points="930.8,453.7 931.9,458 933,462.3 934.3,466.6 935.8,470.8 937.4,475.1 939.3,479.4 941.3,483.8 943.5,488.2 945.8,492.7 948.4,497.4 951,502.1 953.3,506.1 954.7,508.5 955.8,510.2 957.4,512.5 959.9,515.7 962.9,519.4 966.6,523.9 971.3,529.4 976.6,535.7 982.3,542.4 988.3,549.5 994.7,557.1 1001.1,564.6 1007.6,572.4 1014.2,580.1 1019.9,586.8 1024.3,592.1 1028,596.3 1031.2,600.2 1034,603.5 1036.5,606.5 1039,609.4 1036.8,613 1034.3,610.1 1031.8,607.2 1028.9,603.8 1025.7,600 1022.1,595.7 1017.7,590.5 1012,583.7 1005.4,576 998.9,568.3 992.5,560.7 986.1,553.2 980.1,546.1 974.4,539.4 969,533 964.4,527.5 960.6,522.9 957.4,519 954.8,515.6 952.9,513 951.5,510.7 949.9,508.1 947.5,504 944.8,499.1 942.2,494.3 939.8,489.6 937.5,485 935.3,480.3 933.3,475.7 931.6,471.1 929.9,466.4 928.5,461.7 927.4,457.2 926.3,452.9" fill="#980610" stroke="#200000" stroke-width="0.9"/>
<polygon points="1039,609.4 1045.8,605.5 1043.6,609.1 1036.8,613" fill="#9a0000" stroke="#4a0000" stroke-width="0.6"/>
<polygon points="930.8,453.7 931.9,458 933,462.3 934.3,466.6 935.8,470.8 937.4,475.1 939.3,479.4 941.3,483.8 943.5,488.2 945.8,492.7 948.4,497.4 951,502.1 953.3,506.1 954.7,508.5 955.8,510.2 957.4,512.5 959.9,515.7 962.9,519.4 966.6,523.9 971.3,529.4 976.6,535.7 982.3,542.4 988.3,549.5 994.7,557.1 1001.1,564.6 1007.6,572.4 1014.2,580.1 1019.9,586.8 1024.3,592.1 1028,596.3 1031.2,600.2 1034,603.5 1036.5,606.5 1039,609.4 1045.8,605.5 1043.3,602.6 1040.8,599.6 1038,596.2 1034.7,592.4 1031.1,588.2 1026.7,582.9 1021,576.2 1014.4,568.4 1007.9,560.7 1001.5,553.2 995.1,545.6 989.1,538.5 983.4,531.8 978.1,525.5 973.4,520 969.7,515.5 966.7,511.7 964.2,508.6 962.6,506.3 961.5,504.6 960.1,502.2 957.8,498.2 955.2,493.5 952.6,488.8 950.3,484.3 948.1,479.9 946.1,475.5 944.2,471.2 942.6,466.9 941.1,462.7 939.8,458.4 938.7,454.1 937.6,449.8" fill="#be0812" stroke="#200000" stroke-width="0.9"/>
<polygon points="1040.1,607.8 1043.3,605.9 1055.4,621.4 1054.7,624.2 1052.2,623.3" fill="#a60a14" stroke="#2a0008" stroke-width="0.8"/>
<polygon points="1040.8,609.3 1052.2,623.3 1054.7,624.2 1051.6,625 1039.7,610.9" fill="#6a0008"/>
<line x1="983.8" y1="545.4" x2="1121" y2="466.2" stroke="#32323e" stroke-width="2.4"/>
<line x1="983.8" y1="543.2" x2="1121" y2="464" stroke="#a4a6ba" stroke-width="3.2"/>
<polygon points="1047.5,637.8 1048.6,643.5 1050.8,648.5 1061.1,659.6 1062.3,661 1093.2,704.2 1102.5,698.8 1076.3,653 1075.1,651.5 1063.9,641 1058.2,637.9 1051.2,635.6" fill="#a7a72c" stroke="#16160a" stroke-width="1.1" stroke-linejoin="round"/>
<polygon points="1047.5,637.8 1048.6,643.5 1050.8,648.5 1061.1,659.6 1062.3,661 1093.2,704.2 1092.8,704.9 1055,672.9 1054,671 1051.9,660.6 1049.5,650.7 1047.1,640.9" fill="#858520" stroke="#16160a" stroke-width="1.1" stroke-linejoin="round"/>
<polygon points="1058.5,667.3 1093,704.6 1092.8,704.9 1055,672.9" fill="#6a6a12"/>
<polygon points="1093.2,704.2 1102.5,698.8 1102.1,699.5 1092.8,704.9" fill="#8c8c1c" stroke="#16160a" stroke-width="0.9"/>
<polygon points="1059.8,658.4 1074,650.1 1075,651.3 1060.7,659.5" fill="#16160a"/>
<polygon points="1059.8,658.4 1060.7,659.5 1053.5,671.2 1052.8,669.7" fill="#16160a"/>
<polygon points="1061.9,660.9 1076.2,652.6 1077.1,653.8 1062.8,662" fill="#16160a"/>
<polygon points="1061.9,660.9 1062.8,662 1055.7,673.7 1054.9,672.3" fill="#16160a"/>
<polygon points="1078.6,678.8 1085.4,674.8 1100.2,698.7 1094.2,702.2" fill="#5c5c0e" stroke="#16160a" stroke-width="0.7"/>
<polygon points="1079.8,679.3 1085.3,676.1 1090.9,684.7 1085.3,687.9" fill="#8e8e1e"/>
<polygon points="1086.2,687.4 1090,685.2 1099.1,699.4 1095.3,701.6" fill="#baba38"/>
<circle cx="1063.4" cy="673.2" r="1.3" fill="none" stroke="#16160a" stroke-width="0.7"/>
<polygon points="937.5,384.6 936.4,385.7 935.5,386.5 934.6,387.3 933.7,388.1 932.8,389 931.8,390 930.9,391.2 929.9,392.5 928.9,393.8 928,395.2 927.1,396.5 926.2,397.8 925.3,399 924.5,400.1 923.7,401.3 922.9,402.5 922.2,403.8 921.5,405 920.8,406.2 920.2,407.5 919.6,408.8 919,410 918.5,411.3 918.1,412.6 917.6,413.9 917.3,415.2 916.9,416.5 916.6,417.8 916.3,419.1 916.1,420.4 915.8,421.7 915.7,423 915.5,424.2 915.4,425.5 915.3,426.7 915.2,428 915.2,429.2 915.2,430.3 915.3,431.5 915.3,432.7 915.4,434.1 915.4,435.6 915.4,437.3 915.5,439 915.6,440.8 915.7,442.6 915.8,444.3 916,446 916.2,447.8 916.4,449.7 916.8,451.7 917.1,453.9 917.5,456.3 918,458.8 918.5,461.4 919.1,464 919.8,466.7 920.6,469.5 921.5,472.4 922.4,475.2 923.3,478 924.3,480.7 925.4,483.4 926.6,486 927.7,488.6 929,491.2 930.2,493.7 931.4,496.1 932.7,498.5 934,501 935.5,503.6 937.1,506.5 938.9,509.5 940.7,512.6 942.5,515.7 944.3,518.8 1020.8,609.9 1027.3,619.1 1038.1,627.9 1056.1,646.1 1066,653.6 1066,653.6 1066.1,652.9 1066.3,652.2 1066.5,651.5 1066.7,650.8 1066.8,650.1 1066.8,649.4 1066.8,648.7 1066.7,648.1 1066.6,647.4 1066.4,646.6 1066.2,645.9 1065.9,645.1 1065.6,644.4 1065.2,643.6 1064.8,642.8 1064.3,642 1063.8,641 1063.1,639.9 1062.4,638.7 1061.5,637.4 1060.6,636 1059.7,634.5 1058.6,632.9 1057.6,631.3 1056.5,629.7 1055.4,628 1054.3,626.2 1053.1,624.4 1051.9,622.6 1050.6,620.7 1049.4,618.7 1048,616.6 1046.7,614.5 1045.3,612.3 1044,610.2 1042.7,608.1 1041.4,606 1040.1,603.9 1038.8,601.8 1037.6,599.8 1036.4,597.8 1035.4,596 1034.5,594.4 1033.6,592.8 1032.9,591.4 1032.2,590 1031.5,588.6 1030.7,587 1030,585.4 1029.2,583.7 1028.4,582 1027.6,580.3 1026.8,578.6 1026.1,577 1025.4,575.3 1024.8,573.7 1024.2,572.2 1023.6,570.6 1023,568.9 1022.4,567.2 1021.7,565.4 1021.1,563.6 1020.4,561.7 1019.7,559.8 1019.1,557.9 1018.5,556 1017.9,554 1017.3,552.1 1016.8,550.2 1016.3,548.3 1015.8,546.3 1015.3,544.4 1014.8,542.4 1014.4,540.4 1014,538.4 1013.6,536.4 1013.2,534.4 1012.9,532.4 1012.7,530.3 1012.5,528.2 1012.3,526.1 1012.2,524 1012.1,521.9 1012,519.8 1012,517.7 1012,515.6 1012,513.5 1012,511.3 1012.1,509.2 1012.2,507.1 1012.4,505 1012.6,502.8 1012.9,500.7 1013.2,498.6 1013.5,496.4 1013.9,494.3 1014.3,492.3 1014.8,490.3 1015.3,488.3 1015.9,486.3 1016.5,484.3 1017.3,482.2 1018.1,480 1019,477.6 1020,475.3 1021,472.9 1022,470.6 1023.1,468.4 1024.3,466.3 1025.5,464.3 1026.7,462.3 1028,460.3 1029.3,458.4 1030.5,456.4 1034.5,450.5 1036.3,447 1035.8,443.2 1033.3,439.9" fill="#820000" stroke="#2a0000" stroke-width="0.8"/>
<polygon points="933.6,386.9 932.4,388 931.5,388.8 930.6,389.6 929.7,390.4 928.8,391.3 927.9,392.3 926.9,393.4 926,394.8 925,396.1 924,397.5 923.1,398.8 922.2,400 921.4,401.2 920.6,402.4 919.8,403.6 919,404.8 918.2,406 917.5,407.3 916.8,408.5 916.2,409.8 915.6,411 915.1,412.3 914.6,413.6 914.1,414.9 913.7,416.2 913.3,417.4 912.9,418.7 912.6,420.1 912.3,421.4 912.1,422.7 911.9,424 911.7,425.2 911.5,426.5 911.4,427.8 911.3,429 911.3,430.3 911.2,431.4 911.3,432.6 911.3,433.7 911.4,435 911.4,436.3 911.5,437.9 911.5,439.5 911.5,441.3 911.6,443.1 911.7,444.9 911.8,446.6 912,448.3 912.2,450.1 912.5,452 912.8,454 913.2,456.2 913.6,458.6 914,461.1 914.6,463.7 915.2,466.3 915.9,469 916.7,471.8 917.5,474.7 918.4,477.5 919.4,480.3 920.4,483 921.5,485.6 922.6,488.3 923.8,490.9 925,493.5 926.2,496 927.4,498.4 928.7,500.8 930.1,503.2 931.5,505.9 933.1,508.8 934.9,511.8 936.7,514.9 938.5,518 940.3,521.1 1016.3,613.1 1016.3,613.1 1015.6,612.2 1015,611.3 1014.3,610.4 1013.6,609.5 1013,608.5 1012.3,607.6 1011.7,606.6 1011.1,605.6 1010.5,604.6 1009.9,603.6 1009.3,602.5 1008.6,601.4 1007.9,600.1 1007.1,598.8 1006.3,597.4 1005.6,596 1004.8,594.5 1004,593 1003.2,591.4 1002.4,589.8 1001.5,588.1 1000.7,586.4 1000,584.8 999.2,583.1 998.6,581.6 998,580.1 997.4,578.6 996.9,577.1 996.3,575.5 995.7,573.8 995.1,572.1 994.4,570.3 993.8,568.4 993.1,566.5 992.4,564.5 991.8,562.6 991.3,560.7 990.7,558.7 990.2,556.8 989.7,554.8 989.2,552.8 988.8,550.9 988.3,548.9 987.9,546.9 987.5,544.9 987.1,542.9 986.7,540.8 986.3,538.7 985.9,536.5 985.5,534.3 985.1,531.9 984.8,529.6 984.4,527.3 984.1,524.9 983.9,522.6 983.7,520.3 983.5,518 983.3,515.7 983.1,513.3 983,510.9 983,508.4 982.9,505.9 982.9,503.4 982.9,500.8 983,498.3 983.1,495.8 983.3,493.4 983.5,491 983.8,488.6 984.1,486.2 984.4,483.9 984.8,481.6 985.2,479.4 985.7,477.2 986.2,475.1 986.7,473 987.3,470.9 987.9,468.8 988.6,466.6 989.3,464.5 990,462.4 990.7,460.3 991.5,458.2 992.3,456.2 993.1,454.2 993.9,452.2 994.8,450.2 995.6,448.3 996.4,446.5 997.3,444.8 998,443.2 998.8,441.7 999.5,440.3 1000.3,438.9 1001,437.6 1001.7,436.2 1002.5,434.9 1003.2,433.6 1004,432.4 1004.7,431.1 1005.5,429.9 1006.2,428.6 1006.1,428.8" fill="#7f8297" stroke="#0a0a14" stroke-width="1.3"/>
<polygon points="914.7,450.5 940,480.3 944.3,489.5 949.2,499.1 954.7,507.8 960,514.9 982,540.8 997.7,585.6 1005.2,598 1015.1,610.1 940.1,521.5 940.3,521.1 938.5,518 936.7,514.9 934.9,511.8 933.1,508.8 931.5,505.9 930.1,503.2 928.7,500.8 927.4,498.4 926.2,496 925,493.5 923.8,490.9 922.6,488.3 921.5,485.6 920.4,483 919.4,480.3 918.4,477.5 917.5,474.7 916.7,471.8 915.9,469 915.2,466.3 914.6,463.7 914,461.1 913.6,458.6 913.2,456.2 912.8,454 912.5,452 912.2,450.1 912,448.3" fill="#a80000" stroke="#1a0000" stroke-width="1.2"/>
<polygon points="1006.1,428.8 1006.2,428.6 1005.5,429.9 1004.7,431.1 1004,432.4 1003.2,433.6 1002.5,434.9 1001.7,436.2 1001,437.6 1000.3,438.9 999.5,440.3 998.8,441.7 998,443.2 997.3,444.8 996.4,446.5 995.6,448.3 994.8,450.2 993.9,452.2 993.1,454.2 992.3,456.2 991.5,458.2 990.7,460.3 990,462.4 989.3,464.5 988.6,466.6 987.9,468.8 987.3,470.9 986.7,473 986.2,475.1 985.7,477.2 985.2,479.4 984.8,481.6 984.4,483.9 984.1,486.2 983.8,488.6 983.5,491 983.3,493.4 983.1,495.8 983,498.3 982.9,500.8 982.9,503.4 982.9,505.9 983,508.4 983,510.9 983.1,513.3 983.3,515.7 983.5,518 983.7,520.3 983.9,522.6 984.1,524.9 984.4,527.3 984.8,529.6 985.1,531.9 985.5,534.3 985.9,536.5 986.3,538.7 986.7,540.8 987.1,542.9 987.5,544.9 987.9,546.9 988.3,548.9 988.8,550.9 989.2,552.8 989.7,554.8 990.2,556.8 990.7,558.7 991.3,560.7 991.8,562.6 992.4,564.5 993.1,566.5 993.8,568.4 994.4,570.3 995.1,572.1 995.7,573.8 996.3,575.5 996.9,577.1 997.4,578.6 998,580.1 998.6,581.6 999.2,583.1 1000,584.8 1000.7,586.4 1001.5,588.1 1002.4,589.8 1003.2,591.4 1004,593 1004.8,594.5 1005.6,596 1006.3,597.4 1007.1,598.8 1007.9,600.1 1008.6,601.4 1009.3,602.5 1009.9,603.6 1010.5,604.6 1011.1,605.6 1011.7,606.6 1012.3,607.6 1013,608.5 1013.6,609.5 1014.3,610.4 1015,611.3 1015.6,612.2 1016.3,613.1 1016.8,612.2 1023.3,621.4 1034.1,630.2 1052.2,648.3 1062,655.9 1062,655.9 1062.2,655.2 1062.4,654.5 1062.5,653.8 1062.7,653.1 1062.8,652.4 1062.8,651.7 1062.8,651 1062.7,650.3 1062.6,649.6 1062.4,648.9 1062.2,648.2 1061.9,647.4 1061.6,646.6 1061.2,645.9 1060.8,645.1 1060.3,644.2 1059.8,643.3 1059.2,642.2 1058.4,641 1057.6,639.7 1056.7,638.3 1055.7,636.7 1054.7,635.2 1053.6,633.6 1052.6,632 1051.5,630.3 1050.3,628.5 1049.1,626.7 1047.9,624.9 1046.7,623 1045.4,621 1044.1,618.9 1042.7,616.7 1041.4,614.6 1040,612.4 1038.7,610.4 1037.4,608.3 1036.1,606.2 1034.9,604.1 1033.6,602.1 1032.5,600.1 1031.4,598.3 1030.5,596.6 1029.7,595.1 1028.9,593.7 1028.2,592.3 1027.5,590.8 1026.8,589.3 1026,587.7 1025.2,586 1024.4,584.3 1023.6,582.6 1022.9,580.9 1022.2,579.2 1021.5,577.6 1020.8,576 1020.2,574.4 1019.6,572.8 1019,571.2 1018.4,569.5 1017.8,567.7 1017.1,565.9 1016.4,564 1015.8,562.1 1015.1,560.1 1014.5,558.2 1013.9,556.3 1013.4,554.4 1012.8,552.5 1012.3,550.6 1011.8,548.6 1011.3,546.7 1010.9,544.7 1010.4,542.7 1010,540.7 1009.6,538.7 1009.3,536.7 1009,534.7 1008.7,532.6 1008.5,530.5 1008.4,528.4 1008.2,526.3 1008.1,524.2 1008.1,522.1 1008,520 1008,517.8 1008,515.7 1008.1,513.6 1008.1,511.5 1008.3,509.4 1008.5,507.3 1008.7,505.1 1008.9,503 1009.2,500.8 1009.6,498.7 1010,496.6 1010.4,494.6 1010.9,492.6 1011.4,490.6 1011.9,488.6 1012.6,486.6 1013.3,484.5 1014.1,482.2 1015,479.9 1016,477.6 1017,475.2 1018.1,472.9 1019.2,470.7 1020.3,468.6 1021.5,466.5 1022.8,464.6 1024,462.6 1025.3,460.6 1026.6,458.7 1030.6,452.8 1032.3,449.3 1031.8,445.5 1029.3,442.1" fill="#ac0000" stroke="#1a0000" stroke-width="1.2"/>
<polygon points="1021.9,619.1 1050.8,653.1 1053.5,660.5 1020.8,621" fill="#5a5ab8" stroke="#20205a" stroke-width="0.8"/>
<polygon points="1190.8,555.1 1191.8,560.8 1194.1,565.8 1204.3,576.9 1205.6,578.3 1236.5,621.5 1245.8,616.1 1219.6,570.3 1218.3,568.8 1207.1,558.3 1201.4,555.2 1194.4,552.9" fill="#a7a72c" stroke="#16160a" stroke-width="1.1" stroke-linejoin="round"/>
<polygon points="1190.8,555.1 1191.8,560.8 1194.1,565.8 1204.3,576.9 1205.6,578.3 1236.5,621.5 1236,622.2 1198.3,590.2 1197.3,588.3 1195.1,577.9 1192.8,568 1190.3,558.2" fill="#858520" stroke="#16160a" stroke-width="1.1" stroke-linejoin="round"/>
<polygon points="1201.7,584.6 1236.2,621.9 1236,622.2 1198.3,590.2" fill="#6a6a12"/>
<polygon points="1236.5,621.5 1245.8,616.1 1245.4,616.8 1236,622.2" fill="#8c8c1c" stroke="#16160a" stroke-width="0.9"/>
<polygon points="1203,575.7 1217.3,567.4 1218.2,568.6 1203.9,576.8" fill="#16160a"/>
<polygon points="1203,575.7 1203.9,576.8 1196.8,588.5 1196,587" fill="#16160a"/>
<polygon points="1205.2,578.2 1219.4,569.9 1220.3,571.1 1206.1,579.3" fill="#16160a"/>
<polygon points="1205.2,578.2 1206.1,579.3 1198.9,591 1198.2,589.5" fill="#16160a"/>
<polygon points="1221.9,596.1 1228.7,592.1 1243.5,616 1237.4,619.5" fill="#5c5c0e" stroke="#16160a" stroke-width="0.7"/>
<polygon points="1223.1,596.6 1228.6,593.4 1234.1,602 1228.6,605.2" fill="#8e8e1e"/>
<polygon points="1229.4,604.7 1233.3,602.5 1242.4,616.7 1238.6,618.9" fill="#baba38"/>
<circle cx="1206.7" cy="590.5" r="1.3" fill="none" stroke="#16160a" stroke-width="0.7"/>
<polygon points="1154.9,575.8 1156,581.5 1158.3,586.5 1168.5,597.5 1169.7,599 1200.6,642.2 1209.9,636.8 1183.7,590.9 1182.5,589.5 1171.3,579 1165.6,575.9 1158.6,573.6" fill="#a7a72c" stroke="#16160a" stroke-width="1.1" stroke-linejoin="round"/>
<polygon points="1154.9,575.8 1156,581.5 1158.3,586.5 1168.5,597.5 1169.7,599 1200.6,642.2 1200.2,642.9 1162.4,610.9 1161.5,609 1159.3,598.6 1156.9,588.7 1154.5,578.9" fill="#858520" stroke="#16160a" stroke-width="1.1" stroke-linejoin="round"/>
<polygon points="1165.9,605.3 1200.4,642.6 1200.2,642.9 1162.4,610.9" fill="#6a6a12"/>
<polygon points="1200.6,642.2 1209.9,636.8 1209.5,637.5 1200.2,642.9" fill="#8c8c1c" stroke="#16160a" stroke-width="0.9"/>
<polygon points="1167.2,596.4 1181.5,588.1 1182.4,589.3 1168.1,597.5" fill="#16160a"/>
<polygon points="1167.2,596.4 1168.1,597.5 1160.9,609.2 1160.2,607.7" fill="#16160a"/>
<polygon points="1169.3,598.9 1183.6,590.6 1184.5,591.8 1170.2,600" fill="#16160a"/>
<polygon points="1169.3,598.9 1170.2,600 1163.1,611.7 1162.3,610.2" fill="#16160a"/>
<polygon points="1186,616.8 1192.8,612.8 1207.7,636.7 1201.6,640.2" fill="#5c5c0e" stroke="#16160a" stroke-width="0.7"/>
<polygon points="1187.2,617.2 1192.7,614.1 1198.3,622.7 1192.7,625.9" fill="#8e8e1e"/>
<polygon points="1193.6,625.4 1197.4,623.2 1206.5,637.4 1202.7,639.6" fill="#baba38"/>
<circle cx="1170.8" cy="611.2" r="1.3" fill="none" stroke="#16160a" stroke-width="0.7"/>
<polygon points="1119.3,596.3 1120.4,602 1122.7,607.1 1132.9,618.1 1134.2,619.6 1165,662.7 1174.4,657.3 1148.2,611.5 1146.9,610 1135.7,599.6 1130,596.5 1123,594.2" fill="#a7a72c" stroke="#16160a" stroke-width="1.1" stroke-linejoin="round"/>
<polygon points="1119.3,596.3 1120.4,602 1122.7,607.1 1132.9,618.1 1134.2,619.6 1165,662.7 1164.6,663.4 1126.9,631.4 1125.9,629.5 1123.7,619.1 1121.3,609.3 1118.9,599.5" fill="#858520" stroke="#16160a" stroke-width="1.1" stroke-linejoin="round"/>
<polygon points="1130.3,625.8 1164.8,663.1 1164.6,663.4 1126.9,631.4" fill="#6a6a12"/>
<polygon points="1165,662.7 1174.4,657.3 1174,658 1164.6,663.4" fill="#8c8c1c" stroke="#16160a" stroke-width="0.9"/>
<polygon points="1131.6,616.9 1145.9,608.6 1146.8,609.8 1132.5,618" fill="#16160a"/>
<polygon points="1131.6,616.9 1132.5,618 1125.4,629.7 1124.6,628.3" fill="#16160a"/>
<polygon points="1133.7,619.4 1148,611.2 1148.9,612.3 1134.6,620.6" fill="#16160a"/>
<polygon points="1133.7,619.4 1134.6,620.6 1127.5,632.2 1126.8,630.8" fill="#16160a"/>
<polygon points="1150.5,637.3 1157.3,633.4 1172.1,657.3 1166,660.8" fill="#5c5c0e" stroke="#16160a" stroke-width="0.7"/>
<polygon points="1151.7,637.8 1157.2,634.6 1162.7,643.2 1157.2,646.4" fill="#8e8e1e"/>
<polygon points="1158,645.9 1161.8,643.7 1171,657.9 1167.1,660.1" fill="#baba38"/>
<circle cx="1135.3" cy="631.8" r="1.3" fill="none" stroke="#16160a" stroke-width="0.7"/>
<polygon points="1083.3,617.1 1084.3,622.8 1086.6,627.9 1096.8,638.9 1098.1,640.4 1129,683.6 1138.3,678.2 1112.1,632.3 1110.8,630.8 1099.6,620.4 1094,617.3 1087,615" fill="#a7a72c" stroke="#16160a" stroke-width="1.1" stroke-linejoin="round"/>
<polygon points="1083.3,617.1 1084.3,622.8 1086.6,627.9 1096.8,638.9 1098.1,640.4 1129,683.6 1128.6,684.2 1090.8,652.2 1089.8,650.3 1087.6,639.9 1085.3,630.1 1082.9,620.3" fill="#858520" stroke="#16160a" stroke-width="1.1" stroke-linejoin="round"/>
<polygon points="1094.3,646.6 1128.8,683.9 1128.6,684.2 1090.8,652.2" fill="#6a6a12"/>
<polygon points="1129,683.6 1138.3,678.2 1137.9,678.9 1128.6,684.2" fill="#8c8c1c" stroke="#16160a" stroke-width="0.9"/>
<polygon points="1095.5,637.7 1109.8,629.5 1110.7,630.6 1096.4,638.9" fill="#16160a"/>
<polygon points="1095.5,637.7 1096.4,638.9 1089.3,650.5 1088.6,649.1" fill="#16160a"/>
<polygon points="1097.7,640.2 1112,632 1112.9,633.1 1098.6,641.4" fill="#16160a"/>
<polygon points="1097.7,640.2 1098.6,641.4 1091.4,653 1090.7,651.6" fill="#16160a"/>
<polygon points="1114.4,658.1 1121.2,654.2 1136,678.1 1129.9,681.6" fill="#5c5c0e" stroke="#16160a" stroke-width="0.7"/>
<polygon points="1115.6,658.6 1121.1,655.4 1126.6,664 1121.1,667.2" fill="#8e8e1e"/>
<polygon points="1122,666.7 1125.8,664.5 1134.9,678.7 1131.1,680.9" fill="#baba38"/>
<circle cx="1099.2" cy="652.6" r="1.3" fill="none" stroke="#16160a" stroke-width="0.7"/>
<polygon points="1061.1,659.6 1062.3,661 1093.2,704.2 1102.5,698.8 1076.3,653 1075.1,651.5" fill="#a7a72c" stroke="#16160a" stroke-width="1.1" stroke-linejoin="round"/>
<polygon points="1052.1,649.9 1061.1,659.6 1062.3,661 1093.2,704.2 1092.8,704.9 1055,672.9 1054,671 1051.9,660.6 1050.1,653.1" fill="#858520" stroke="#16160a" stroke-width="1.1" stroke-linejoin="round"/>
<polygon points="1058.5,667.3 1093,704.6 1092.8,704.9 1055,672.9" fill="#6a6a12"/>
<polygon points="1093.2,704.2 1102.5,698.8 1102.1,699.5 1092.8,704.9" fill="#8c8c1c" stroke="#16160a" stroke-width="0.9"/>
<polygon points="1059.8,658.4 1074,650.1 1075,651.3 1060.7,659.5" fill="#16160a"/>
<polygon points="1059.8,658.4 1060.7,659.5 1053.5,671.2 1052.8,669.7" fill="#16160a"/>
<polygon points="1061.9,660.9 1076.2,652.6 1077.1,653.8 1062.8,662" fill="#16160a"/>
<polygon points="1061.9,660.9 1062.8,662 1055.7,673.7 1054.9,672.3" fill="#16160a"/>
<polygon points="1078.6,678.8 1085.4,674.8 1100.2,698.7 1094.2,702.2" fill="#5c5c0e" stroke="#16160a" stroke-width="0.7"/>
<polygon points="1079.8,679.3 1085.3,676.1 1090.9,684.7 1085.3,687.9" fill="#8e8e1e"/>
<polygon points="1086.2,687.4 1090,685.2 1099.1,699.4 1095.3,701.6" fill="#baba38"/>
<circle cx="1063.4" cy="673.2" r="1.3" fill="none" stroke="#16160a" stroke-width="0.7"/>
<polygon points="1199.3,534.2 1206.6,545.3 1212.1,553.9 1214.9,559.1 1215.8,563.4 1215,567.6 1210.8,564.8 1202.6,557.1 1191.9,546.4" fill="#7a0000"/>
<polygon points="1194.9,536.8 1202.2,547.8 1207.7,556.5 1210.5,561.7 1211.4,566 1210.6,570.1 1206.4,567.4 1198.2,559.7 1187.5,548.9" fill="#b00000"/>
<polyline points="1194.9,536.8 1202.2,547.8 1207.7,556.5 1210.5,561.7 1211.4,566 1210.6,570.1 1206.4,567.4" fill="none" stroke="#1a0000" stroke-width="1.0"/>
<polygon points="1029.3,442.1 1177.9,356.4 1177.9,361 1029.3,446.7" fill="#5e6072" stroke="#0a0a14" stroke-width="1.1"/>
<polygon points="933.6,386.9 1082.1,301.1 1177.9,356.4 1029.3,442.1" fill="#9b9eb6" stroke="#0a0a14" stroke-width="1.4"/>
<polygon points="1082.2,296.5 1154.7,338.5 1154.7,343 1082.1,301.1" fill="#1a1a24" stroke="#0a0a12" stroke-width="0.8"/>
<polygon points="1154.7,338.5 1178.2,352.2 1181.9,353.7 1183.8,355.6 1184.4,358.9 1182.9,362.3 1177.7,370.8 1175,365.9 1177.9,356.4 1154.7,343" fill="#b00000" stroke="#1a0000" stroke-width="1.0"/>
<polygon points="1044.6,326.5 1045,324.9 1045.5,323.4 1046,321.8 1046.5,320.3 1047.2,318.8 1048,317.3 1048.8,315.9 1049.5,314.7 1050.2,313.6 1050.8,312.7 1051.4,311.9 1052.2,311.1 1053,310.5 1054,309.9 1055.1,309.5 1056.4,309.4 1057.7,309.6 1059.3,310.2 1060.9,311 1062.7,312.3 1064.6,314.2 1066.7,316.5 1068.8,319 1071,321.6 1073.4,324.3 1075.8,327.2 1078.3,330.1 1080.5,332.5 1082.6,334.5 1084.5,336 1086.4,337.5 1088.4,339 1090.8,340.7 1093.2,342.4 1095.8,344.1 1098.4,345.7 1101.1,347.3 1103.9,349 1106.6,350.5 1109.2,351.8 1111.7,352.8 1113.9,353.5 1116.1,354.1 1118.4,354.5 1120.7,354.8 1123,354.9 1125.2,354.9 1127.3,355 1129.1,354.9 1130.7,354.9 1132.2,354.9 1133.7,355.1 1135.2,355.6 1136.8,356.3 1138.3,357.2 1139.7,358.4 1140.9,359.7 1142.1,361.4 1143.1,363.1 1143.9,364.9 1144.5,366.7 1144.9,368.6 1145.2,370.6 1145.1,372.5 1144.8,374.5 1144.2,376.5 1143.4,378.5 1142.6,380.4 1141.8,382.2 1140.9,384 1140,385.7 1139.2,387.4 1136.2,380.5" fill="#74768c" stroke="#0c0c16" stroke-width="1.2"/>
<polygon points="1040.3,329 1040.8,327.4 1041.2,325.8 1041.7,324.3 1042.3,322.8 1043,321.3 1043.7,319.8 1044.5,318.4 1045.3,317.1 1045.9,316.1 1046.5,315.1 1047.2,314.3 1047.9,313.6 1048.8,312.9 1049.8,312.3 1050.9,311.9 1052.1,311.8 1053.5,312.1 1055,312.6 1056.7,313.5 1058.4,314.8 1060.3,316.6 1062.4,318.9 1064.6,321.4 1066.8,324 1069.1,326.7 1071.6,329.7 1074,332.5 1076.3,335 1078.3,336.9 1080.2,338.5 1082.1,339.9 1084.2,341.5 1086.5,343.1 1089,344.8 1091.6,346.5 1094.2,348.1 1096.8,349.8 1099.6,351.4 1102.4,353 1105,354.2 1107.4,355.2 1109.7,356 1111.9,356.5 1114.1,357 1116.4,357.3 1118.8,357.4 1121,357.4 1123.1,357.4 1124.8,357.4 1126.4,357.3 1127.9,357.3 1129.4,357.6 1131,358.1 1132.6,358.8 1134.1,359.7 1135.4,360.8 1136.7,362.2 1137.8,363.8 1138.9,365.6 1139.7,367.3 1140.3,369.2 1140.7,371.1 1140.9,373 1140.9,375 1140.6,377 1139.9,379 1139.1,380.9 1138.3,382.9 1137.6,384.7 1136.7,386.4 1135.8,388.1 1134.9,389.9 1132,383" fill="#8d90a8" stroke="#0c0c16" stroke-width="1.2"/>
<line x1="1001" y1="356.1" x2="1056.8" y2="323.8" stroke="#14141e" stroke-width="11.4"/>
<line x1="1001" y1="356.1" x2="1056.8" y2="323.8" stroke="#8c8ea6" stroke-width="9.6"/>
<line x1="1000.4" y1="354.9" x2="1056.2" y2="322.6" stroke="#a6a8be" stroke-width="5.6"/>
<line x1="1076.5" y1="400.5" x2="1132.4" y2="368.2" stroke="#14141e" stroke-width="11.4"/>
<line x1="1076.5" y1="400.5" x2="1132.4" y2="368.2" stroke="#8c8ea6" stroke-width="9.6"/>
<line x1="1075.9" y1="399.3" x2="1131.8" y2="367" stroke="#a6a8be" stroke-width="5.6"/>
<polygon points="987.3,359.6 987.8,358 988.2,356.4 988.7,354.9 989.2,353.4 989.9,351.9 990.7,350.4 991.5,349 992.3,347.8 992.9,346.7 993.5,345.7 994.1,344.9 994.9,344.2 995.8,343.5 996.8,342.9 997.9,342.5 999.1,342.5 1000.5,342.7 1002,343.2 1003.6,344.1 1005.4,345.4 1007.3,347.2 1009.4,349.5 1011.5,352.1 1013.8,354.6 1016.1,357.4 1018.5,360.3 1021,363.1 1023.3,365.6 1025.3,367.5 1027.2,369.1 1029.1,370.5 1031.2,372.1 1033.5,373.7 1036,375.4 1038.5,377.1 1041.1,378.8 1043.8,380.4 1046.6,382 1049.4,383.6 1052,384.9 1054.4,385.8 1056.6,386.6 1058.9,387.2 1061.1,387.6 1063.4,387.9 1065.7,388 1068,388 1070,388 1071.8,388 1073.4,387.9 1074.9,387.9 1076.4,388.2 1078,388.7 1079.5,389.4 1081,390.3 1082.4,391.4 1083.7,392.8 1084.8,394.4 1085.8,396.2 1086.6,398 1087.2,399.8 1087.7,401.7 1087.9,403.7 1087.9,405.6 1087.5,407.6 1086.9,409.6 1086.1,411.6 1085.3,413.5 1084.5,415.3 1083.7,417 1082.8,418.7 1081.9,420.5 1079,413.6" fill="#74768c" stroke="#0c0c16" stroke-width="1.2"/>
<polygon points="983.3,361.9 983.8,360.3 984.2,358.7 984.7,357.2 985.3,355.7 986,354.2 986.8,352.7 987.6,351.3 988.3,350 989,349 989.5,348 990.2,347.2 990.9,346.5 991.8,345.8 992.8,345.2 993.9,344.8 995.1,344.7 996.5,345 998,345.5 999.7,346.4 1001.4,347.7 1003.4,349.5 1005.4,351.8 1007.6,354.3 1009.8,356.9 1012.1,359.6 1014.6,362.6 1017,365.4 1019.3,367.9 1021.3,369.8 1023.2,371.4 1025.1,372.8 1027.2,374.4 1029.5,376 1032,377.7 1034.6,379.4 1037.2,381 1039.8,382.7 1042.6,384.3 1045.4,385.9 1048,387.1 1050.4,388.1 1052.7,388.9 1054.9,389.4 1057.1,389.9 1059.4,390.2 1061.8,390.3 1064,390.3 1066.1,390.3 1067.8,390.3 1069.4,390.2 1070.9,390.2 1072.4,390.5 1074,391 1075.6,391.7 1077.1,392.6 1078.5,393.7 1079.7,395.1 1080.9,396.7 1081.9,398.5 1082.7,400.2 1083.3,402.1 1083.7,404 1083.9,405.9 1083.9,407.9 1083.6,409.9 1082.9,411.9 1082.1,413.8 1081.4,415.8 1080.6,417.6 1079.7,419.3 1078.8,421 1077.9,422.8 1075,415.9" fill="#8d90a8" stroke="#0c0c16" stroke-width="1.2"/>
<polygon points="1002.7,361.3 1002.1,361.9 1001.3,362.2 1000.4,362.2 999.4,361.8 998.3,361.1 997.4,360.1 996.5,358.9 995.9,357.6 995.4,356.3 995.3,355 995.3,353.9 995.7,353 996.3,352.3 997.1,352 998,352.1 999,352.5 1000.1,353.2 1001,354.1 1001.9,355.3 1002.6,356.6 1003,357.9 1003.2,359.2 1003.1,360.3" fill="#9a9cb4" stroke="#0c0c16" stroke-width="1.2"/>
<polygon points="1078.1,405.5 1077.6,406.1 1076.8,406.4 1075.9,406.4 1074.9,406 1073.9,405.3 1073,404.4 1072.2,403.3 1071.5,402 1071.1,400.7 1070.9,399.5 1071,398.4 1071.4,397.5 1071.9,396.9 1072.7,396.6 1073.6,396.6 1074.6,397 1075.6,397.7 1076.5,398.6 1077.3,399.8 1078,401 1078.4,402.3 1078.6,403.5 1078.5,404.6" fill="#9a9cb4" stroke="#0c0c16" stroke-width="1.2"/>
</g>
</svg>
</body></html>
